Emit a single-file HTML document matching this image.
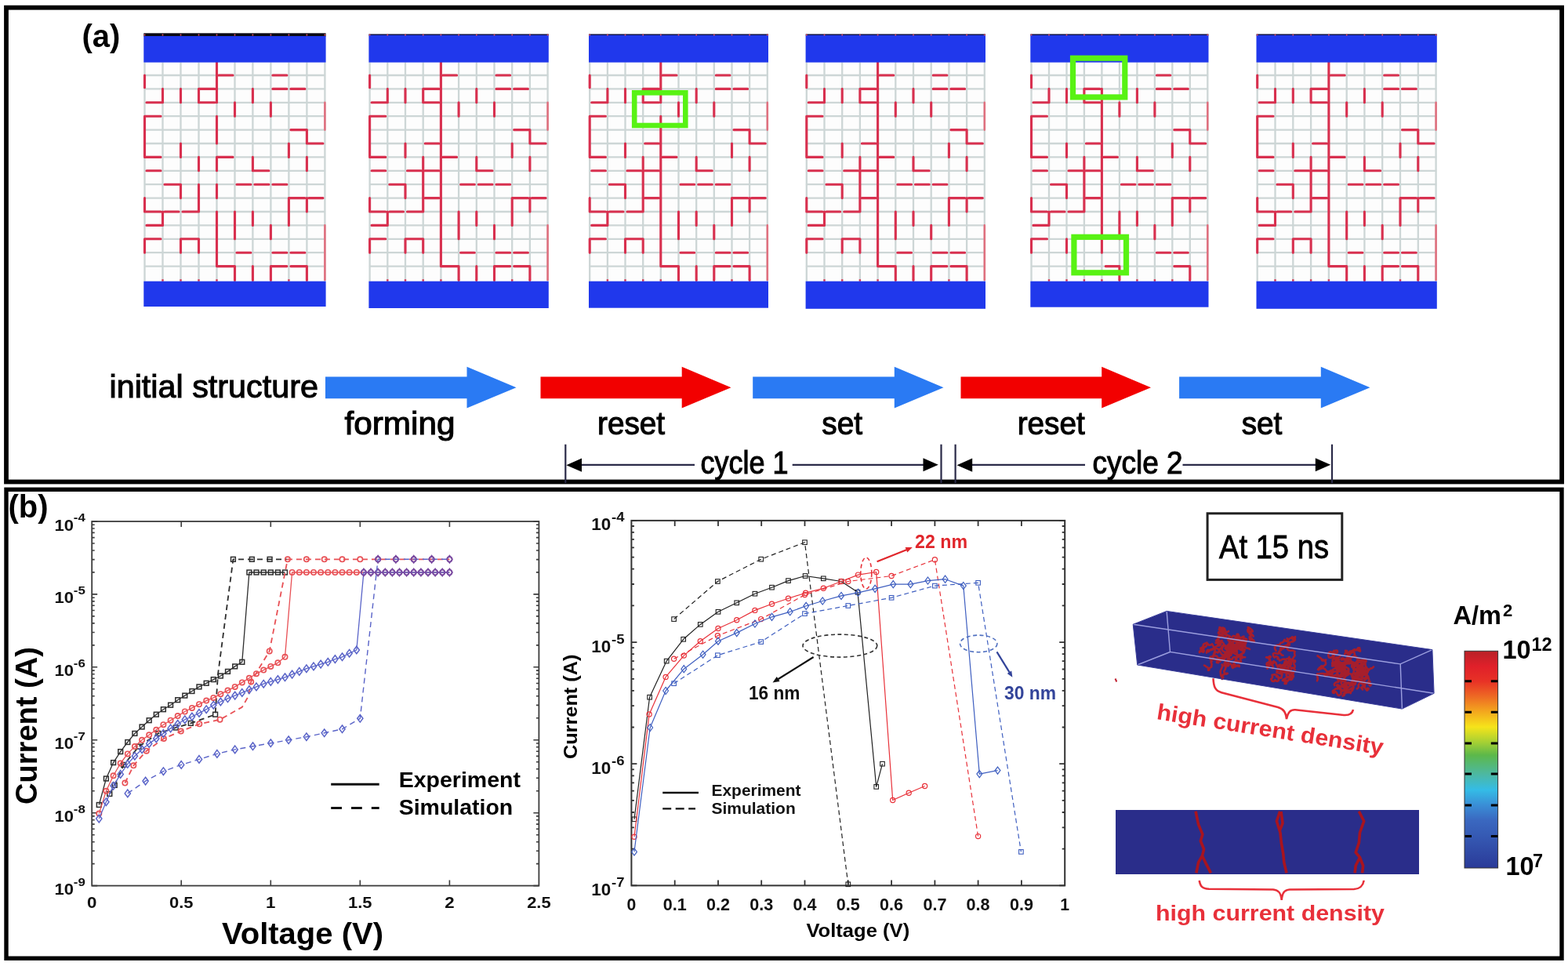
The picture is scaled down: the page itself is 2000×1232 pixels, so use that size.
<!DOCTYPE html>
<html><head><meta charset="utf-8"><title>Figure</title>
<style>html,body{margin:0;padding:0;background:#fff;}svg{display:block;}text{font-family:"Liberation Sans",Arial,sans-serif;}</style></head><body>
<svg width="2000" height="1232" viewBox="0 0 2000 1232">
<rect width="2000" height="1232" fill="#fff"/>
<rect x="183.3" y="79.6" width="232.3" height="279.1" fill="#fdfdfd"/>
<path d="M184.5 79.6V358.7M207.5 79.6V358.7M230.5 79.6V358.7M253.5 79.6V358.7M276.5 79.6V358.7M299.5 79.6V358.7M322.4 79.6V358.7M345.4 79.6V358.7M368.4 79.6V358.7M391.4 79.6V358.7M414.4 79.6V358.7M183.3 96H415.6M183.3 113.4H415.6M183.3 130.8H415.6M183.3 148.2H415.6M183.3 165.6H415.6M183.3 183H415.6M183.3 200.4H415.6M183.3 217.8H415.6M183.3 235.2H415.6M183.3 252.6H415.6M183.3 270H415.6M183.3 287.4H415.6M183.3 304.8H415.6M183.3 322.2H415.6M183.3 339.6H415.6" stroke="#cdd6d6" stroke-width="2.3" fill="none"/>
<path d="M276.5 78.6L276.5 130.8M279 96L297 96M274 113.4L253.5 113.4L253.5 130.8L274 130.8M184.5 96L184.5 111.7M207.5 113.4L207.5 130.8L187 130.8M230.5 113.4L230.5 130.8M347.9 96L365.9 96M347.9 113.4L365.9 113.4M370.9 113.4L388.9 113.4M322.4 113.4L322.4 130.8M299.5 130.8L299.5 148.2M345.4 130.8L345.4 148.2M205 148.2L184.5 148.2L184.5 200.4L205 200.4M276.5 148.2L276.5 183M370.9 165.6L391.4 165.6L391.4 183L411.9 183M230.5 183L230.5 200.4M368.4 183L368.4 200.4M276.5 217.8L276.5 200.4L297 200.4M253.5 200.4L253.5 217.8M322.4 200.4L322.4 217.8L342.9 217.8M391.4 200.4L391.4 217.8M187 217.8L205 217.8M302 235.2L319.9 235.2M324.9 235.2L342.9 235.2M347.9 235.2L365.9 235.2M210 235.2L230.5 235.2L230.5 252.6M253.5 235.2L253.5 270L233 270M228 270L210 270M205 270L184.5 270L184.5 252.6M207.5 270L207.5 287.4L187 287.4M276.5 235.2L276.5 252.6M368.4 287.4L368.4 252.6L388.9 252.6M393.9 252.6L411.9 252.6M391.4 252.6L391.4 270M276.5 270L276.5 339.6L299.5 339.6L299.5 357M299.5 270L299.5 304.8M322.4 270L322.4 287.4M345.4 287.4L345.4 304.8M205 304.8L184.5 304.8L184.5 322.2M230.5 322.2L230.5 304.8L253.5 304.8L253.5 322.2M302 322.2L319.9 322.2M347.9 322.2L365.9 322.2M370.9 322.2L388.9 322.2M322.4 339.6L322.4 357M365.9 339.6L345.4 339.6L345.4 357M370.9 339.6L391.4 339.6L391.4 357" stroke="#d8304f" stroke-width="3.1" fill="none" stroke-linecap="round" stroke-linejoin="round"/>
<path d="M414.4 130.8L414.4 165.6M414.4 287.4L414.4 357" stroke="#e0707f" stroke-width="2.6" fill="none" stroke-linecap="round"/>
<path d="M207.5 356.2V358.7M230.5 356.2V358.7M253.5 356.2V358.7M276.5 356.2V358.7M299.5 356.2V358.7M322.4 356.2V358.7M345.4 356.2V358.7M368.4 356.2V358.7M391.4 356.2V358.7" stroke="#d8304f" stroke-width="2.4" fill="none"/>
<rect x="183.3" y="42.3" width="232.3" height="4.2" fill="#0a0a14"/>
<rect x="183.3" y="46" width="232.3" height="33.6" fill="#2038ec"/>
<path d="M183.7 44.5h1.6M206.7 44.5h1.6M229.7 44.5h1.6M252.7 44.5h1.6M275.7 44.5h1.6M298.7 44.5h1.6M321.6 44.5h1.6M344.6 44.5h1.6M367.6 44.5h1.6M390.6 44.5h1.6M413.6 44.5h1.6" stroke="#e05060" stroke-width="2" fill="none"/>
<rect x="183.3" y="358.7" width="232.3" height="32.3" fill="#2038ec"/>
<rect x="470.4" y="79.6" width="229.4" height="279.1" fill="#fdfdfd"/>
<path d="M471.6 79.6V358.7M494.3 79.6V358.7M517 79.6V358.7M539.7 79.6V358.7M562.4 79.6V358.7M585.1 79.6V358.7M607.8 79.6V358.7M630.5 79.6V358.7M653.2 79.6V358.7M675.9 79.6V358.7M698.6 79.6V358.7M470.4 96H699.8M470.4 113.4H699.8M470.4 130.8H699.8M470.4 148.2H699.8M470.4 165.6H699.8M470.4 183H699.8M470.4 200.4H699.8M470.4 217.8H699.8M470.4 235.2H699.8M470.4 252.6H699.8M470.4 270H699.8M470.4 287.4H699.8M470.4 304.8H699.8M470.4 322.2H699.8M470.4 339.6H699.8" stroke="#cdd6d6" stroke-width="2.3" fill="none"/>
<path d="M564.9 96L582.6 96M559.9 113.4L539.7 113.4L539.7 130.8L559.9 130.8M471.6 96L471.6 111.7M494.3 113.4L494.3 130.8L474.1 130.8M517 113.4L517 130.8M633 96L650.7 96M633 113.4L650.7 113.4M655.7 113.4L673.4 113.4M607.8 113.4L607.8 130.8M585.1 130.8L585.1 148.2M630.5 130.8L630.5 148.2M491.8 148.2L471.6 148.2L471.6 200.4L491.8 200.4M655.7 165.6L675.9 165.6L675.9 183L696.1 183M517 183L517 200.4M653.2 183L653.2 200.4M607.8 200.4L607.8 217.8L628 217.8M675.9 200.4L675.9 217.8M474.1 217.8L491.8 217.8M587.6 235.2L605.3 235.2M610.3 235.2L628 235.2M633 235.2L650.7 235.2M496.8 235.2L517 235.2L517 252.6M514.5 270L496.8 270M491.8 270L471.6 270L471.6 252.6M494.3 270L494.3 287.4L474.1 287.4M653.2 287.4L653.2 252.6L673.4 252.6M678.4 252.6L696.1 252.6M675.9 252.6L675.9 270M585.1 270L585.1 304.8M607.8 270L607.8 287.4M630.5 287.4L630.5 304.8M491.8 304.8L471.6 304.8L471.6 322.2M517 322.2L517 304.8L539.7 304.8L539.7 322.2M587.6 322.2L605.3 322.2M633 322.2L650.7 322.2M655.7 322.2L673.4 322.2M607.8 339.6L607.8 357M650.7 339.6L630.5 339.6L630.5 357M655.7 339.6L675.9 339.6L675.9 357M562.4 78.6L562.4 339.6L585.1 339.6L585.1 357M564.9 200.4L582.6 200.4M542.2 183L559.9 183M539.7 200.4L539.7 270L519.5 270M519.5 217.8L537.2 217.8M542.2 217.8L559.9 217.8M542.2 252.6L559.9 252.6" stroke="#d8304f" stroke-width="3.1" fill="none" stroke-linecap="round" stroke-linejoin="round"/>
<path d="M698.6 130.8L698.6 165.6M698.6 287.4L698.6 357" stroke="#e0707f" stroke-width="2.6" fill="none" stroke-linecap="round"/>
<path d="M494.3 356.2V358.7M517 356.2V358.7M539.7 356.2V358.7M562.4 356.2V358.7M585.1 356.2V358.7M607.8 356.2V358.7M630.5 356.2V358.7M653.2 356.2V358.7M675.9 356.2V358.7" stroke="#d8304f" stroke-width="2.4" fill="none"/>
<rect x="470.4" y="43.4" width="229.4" height="2" fill="#141850"/>
<rect x="470.4" y="45" width="229.4" height="34.6" fill="#2038ec"/>
<path d="M470.8 44.5h1.6M493.5 44.5h1.6M516.2 44.5h1.6M538.9 44.5h1.6M561.6 44.5h1.6M584.3 44.5h1.6M607 44.5h1.6M629.7 44.5h1.6M652.4 44.5h1.6M675.1 44.5h1.6M697.8 44.5h1.6" stroke="#e05060" stroke-width="2" fill="none"/>
<rect x="470.4" y="358.7" width="229.4" height="34.3" fill="#2038ec"/>
<rect x="751" y="79.6" width="229" height="279.1" fill="#fdfdfd"/>
<path d="M752.2 79.6V358.7M774.9 79.6V358.7M797.5 79.6V358.7M820.2 79.6V358.7M842.8 79.6V358.7M865.5 79.6V358.7M888.2 79.6V358.7M910.8 79.6V358.7M933.5 79.6V358.7M956.1 79.6V358.7M978.8 79.6V358.7M751 96H980M751 113.4H980M751 130.8H980M751 148.2H980M751 165.6H980M751 183H980M751 200.4H980M751 217.8H980M751 235.2H980M751 252.6H980M751 270H980M751 287.4H980M751 304.8H980M751 322.2H980M751 339.6H980" stroke="#cdd6d6" stroke-width="2.3" fill="none"/>
<path d="M845.3 96L863 96M840.3 113.4L820.2 113.4L820.2 130.8L840.3 130.8M752.2 96L752.2 111.7M774.9 113.4L774.9 130.8L754.7 130.8M797.5 113.4L797.5 130.8M913.3 96L931 96M913.3 113.4L931 113.4M936 113.4L953.6 113.4M888.2 113.4L888.2 130.8M865.5 130.8L865.5 148.2M910.8 130.8L910.8 148.2M772.4 148.2L752.2 148.2L752.2 200.4L772.4 200.4M936 165.6L956.1 165.6L956.1 183L976.3 183M797.5 183L797.5 200.4M933.5 183L933.5 200.4M888.2 200.4L888.2 217.8L908.3 217.8M956.1 200.4L956.1 217.8M754.7 217.8L772.4 217.8M868 235.2L885.7 235.2M890.7 235.2L908.3 235.2M913.3 235.2L931 235.2M777.4 235.2L797.5 235.2L797.5 252.6M795 270L777.4 270M772.4 270L752.2 270L752.2 252.6M774.9 270L774.9 287.4L754.7 287.4M933.5 287.4L933.5 252.6L953.6 252.6M958.6 252.6L976.3 252.6M956.1 252.6L956.1 270M865.5 270L865.5 304.8M888.2 270L888.2 287.4M910.8 287.4L910.8 304.8M772.4 304.8L752.2 304.8L752.2 322.2M797.5 322.2L797.5 304.8L820.2 304.8L820.2 322.2M868 322.2L885.7 322.2M913.3 322.2L931 322.2M936 322.2L953.6 322.2M888.2 339.6L888.2 357M931 339.6L910.8 339.6L910.8 357M936 339.6L956.1 339.6L956.1 357M845.3 200.4L863 200.4M822.7 183L840.3 183M820.2 200.4L820.2 270L800 270M800 217.8L817.7 217.8M822.7 217.8L840.3 217.8M822.7 252.6L840.3 252.6M842.8 78.6L842.8 130.8M842.8 148.2L842.8 339.6L865.5 339.6L865.5 357" stroke="#d8304f" stroke-width="3.1" fill="none" stroke-linecap="round" stroke-linejoin="round"/>
<path d="M978.8 130.8L978.8 165.6M978.8 287.4L978.8 357" stroke="#e0707f" stroke-width="2.6" fill="none" stroke-linecap="round"/>
<path d="M774.9 356.2V358.7M797.5 356.2V358.7M820.2 356.2V358.7M842.8 356.2V358.7M865.5 356.2V358.7M888.2 356.2V358.7M910.8 356.2V358.7M933.5 356.2V358.7M956.1 356.2V358.7" stroke="#d8304f" stroke-width="2.4" fill="none"/>
<rect x="751" y="43.4" width="229" height="2" fill="#141850"/>
<rect x="751" y="45" width="229" height="34.6" fill="#2038ec"/>
<path d="M751.4 44.5h1.6M774.1 44.5h1.6M796.7 44.5h1.6M819.4 44.5h1.6M842 44.5h1.6M864.7 44.5h1.6M887.4 44.5h1.6M910 44.5h1.6M932.7 44.5h1.6M955.3 44.5h1.6M978 44.5h1.6" stroke="#e05060" stroke-width="2" fill="none"/>
<rect x="751" y="358.7" width="229" height="34" fill="#2038ec"/>
<rect x="1027.6" y="79.6" width="229.4" height="279.1" fill="#fdfdfd"/>
<path d="M1028.8 79.6V358.7M1051.5 79.6V358.7M1074.2 79.6V358.7M1096.9 79.6V358.7M1119.6 79.6V358.7M1142.3 79.6V358.7M1165 79.6V358.7M1187.7 79.6V358.7M1210.4 79.6V358.7M1233.1 79.6V358.7M1255.8 79.6V358.7M1027.6 96H1257M1027.6 113.4H1257M1027.6 130.8H1257M1027.6 148.2H1257M1027.6 165.6H1257M1027.6 183H1257M1027.6 200.4H1257M1027.6 217.8H1257M1027.6 235.2H1257M1027.6 252.6H1257M1027.6 270H1257M1027.6 287.4H1257M1027.6 304.8H1257M1027.6 322.2H1257M1027.6 339.6H1257" stroke="#cdd6d6" stroke-width="2.3" fill="none"/>
<path d="M1122.1 96L1139.8 96M1117.1 113.4L1096.9 113.4L1096.9 130.8L1117.1 130.8M1028.8 96L1028.8 111.7M1051.5 113.4L1051.5 130.8L1031.3 130.8M1074.2 113.4L1074.2 130.8M1190.2 96L1207.9 96M1190.2 113.4L1207.9 113.4M1212.9 113.4L1230.6 113.4M1165 113.4L1165 130.8M1142.3 130.8L1142.3 148.2M1187.7 130.8L1187.7 148.2M1049 148.2L1028.8 148.2L1028.8 200.4L1049 200.4M1212.9 165.6L1233.1 165.6L1233.1 183L1253.3 183M1074.2 183L1074.2 200.4M1210.4 183L1210.4 200.4M1165 200.4L1165 217.8L1185.2 217.8M1233.1 200.4L1233.1 217.8M1031.3 217.8L1049 217.8M1144.8 235.2L1162.5 235.2M1167.5 235.2L1185.2 235.2M1190.2 235.2L1207.9 235.2M1054 235.2L1074.2 235.2L1074.2 252.6M1071.7 270L1054 270M1049 270L1028.8 270L1028.8 252.6M1051.5 270L1051.5 287.4L1031.3 287.4M1210.4 287.4L1210.4 252.6L1230.6 252.6M1235.6 252.6L1253.3 252.6M1233.1 252.6L1233.1 270M1142.3 270L1142.3 304.8M1165 270L1165 287.4M1187.7 287.4L1187.7 304.8M1049 304.8L1028.8 304.8L1028.8 322.2M1074.2 322.2L1074.2 304.8L1096.9 304.8L1096.9 322.2M1144.8 322.2L1162.5 322.2M1190.2 322.2L1207.9 322.2M1212.9 322.2L1230.6 322.2M1165 339.6L1165 357M1207.9 339.6L1187.7 339.6L1187.7 357M1212.9 339.6L1233.1 339.6L1233.1 357M1119.6 78.6L1119.6 339.6L1142.3 339.6L1142.3 357M1122.1 200.4L1139.8 200.4M1099.4 183L1117.1 183M1096.9 200.4L1096.9 270L1076.7 270M1076.7 217.8L1094.4 217.8M1099.4 217.8L1117.1 217.8M1099.4 252.6L1117.1 252.6" stroke="#d8304f" stroke-width="3.1" fill="none" stroke-linecap="round" stroke-linejoin="round"/>
<path d="M1255.8 130.8L1255.8 165.6M1255.8 287.4L1255.8 357" stroke="#e0707f" stroke-width="2.6" fill="none" stroke-linecap="round"/>
<path d="M1051.5 356.2V358.7M1074.2 356.2V358.7M1096.9 356.2V358.7M1119.6 356.2V358.7M1142.3 356.2V358.7M1165 356.2V358.7M1187.7 356.2V358.7M1210.4 356.2V358.7M1233.1 356.2V358.7" stroke="#d8304f" stroke-width="2.4" fill="none"/>
<rect x="1027.6" y="43.4" width="229.4" height="2" fill="#141850"/>
<rect x="1027.6" y="45" width="229.4" height="34.6" fill="#2038ec"/>
<path d="M1028 44.5h1.6M1050.7 44.5h1.6M1073.4 44.5h1.6M1096.1 44.5h1.6M1118.8 44.5h1.6M1141.5 44.5h1.6M1164.2 44.5h1.6M1186.9 44.5h1.6M1209.6 44.5h1.6M1232.3 44.5h1.6M1255 44.5h1.6" stroke="#e05060" stroke-width="2" fill="none"/>
<rect x="1027.6" y="358.7" width="229.4" height="35.1" fill="#2038ec"/>
<rect x="1314.3" y="79.6" width="227.2" height="279.1" fill="#fdfdfd"/>
<path d="M1315.5 79.6V358.7M1338 79.6V358.7M1360.5 79.6V358.7M1382.9 79.6V358.7M1405.4 79.6V358.7M1427.9 79.6V358.7M1450.4 79.6V358.7M1472.9 79.6V358.7M1495.3 79.6V358.7M1517.8 79.6V358.7M1540.3 79.6V358.7M1314.3 96H1541.5M1314.3 113.4H1541.5M1314.3 130.8H1541.5M1314.3 148.2H1541.5M1314.3 165.6H1541.5M1314.3 183H1541.5M1314.3 200.4H1541.5M1314.3 217.8H1541.5M1314.3 235.2H1541.5M1314.3 252.6H1541.5M1314.3 270H1541.5M1314.3 287.4H1541.5M1314.3 304.8H1541.5M1314.3 322.2H1541.5M1314.3 339.6H1541.5" stroke="#cdd6d6" stroke-width="2.3" fill="none"/>
<path d="M1402.9 113.4L1382.9 113.4L1382.9 130.8L1402.9 130.8M1315.5 96L1315.5 111.7M1338 113.4L1338 130.8L1318 130.8M1360.5 113.4L1360.5 130.8M1475.4 96L1492.8 96M1475.4 113.4L1492.8 113.4M1497.8 113.4L1515.3 113.4M1450.4 113.4L1450.4 130.8M1427.9 130.8L1427.9 148.2M1472.9 130.8L1472.9 148.2M1335.5 148.2L1315.5 148.2L1315.5 200.4L1335.5 200.4M1497.8 165.6L1517.8 165.6L1517.8 183L1537.8 183M1360.5 183L1360.5 200.4M1495.3 183L1495.3 200.4M1450.4 200.4L1450.4 217.8L1470.4 217.8M1517.8 200.4L1517.8 217.8M1318 217.8L1335.5 217.8M1430.4 235.2L1447.9 235.2M1452.9 235.2L1470.4 235.2M1475.4 235.2L1492.8 235.2M1340.5 235.2L1360.5 235.2L1360.5 252.6M1358 270L1340.5 270M1335.5 270L1315.5 270L1315.5 252.6M1338 270L1338 287.4L1318 287.4M1495.3 287.4L1495.3 252.6L1515.3 252.6M1520.3 252.6L1537.8 252.6M1517.8 252.6L1517.8 270M1427.9 270L1427.9 304.8M1450.4 270L1450.4 287.4M1472.9 287.4L1472.9 304.8M1335.5 304.8L1315.5 304.8L1315.5 322.2M1475.4 322.2L1492.8 322.2M1497.8 322.2L1515.3 322.2M1497.8 339.6L1517.8 339.6L1517.8 357M1407.9 200.4L1425.4 200.4M1385.4 183L1402.9 183M1382.9 200.4L1382.9 270L1363 270M1363 217.8L1380.4 217.8M1385.4 217.8L1402.9 217.8M1385.4 252.6L1402.9 252.6M1405.4 113.4L1405.4 322.2M1410.2 339.6L1427.9 339.6L1427.9 357M1360.5 304.8L1360.5 322.2" stroke="#d8304f" stroke-width="3.1" fill="none" stroke-linecap="round" stroke-linejoin="round"/>
<path d="M1540.3 130.8L1540.3 165.6M1540.3 287.4L1540.3 357" stroke="#e0707f" stroke-width="2.6" fill="none" stroke-linecap="round"/>
<path d="M1338 356.2V358.7M1360.5 356.2V358.7M1382.9 356.2V358.7M1405.4 356.2V358.7M1427.9 356.2V358.7M1450.4 356.2V358.7M1472.9 356.2V358.7M1495.3 356.2V358.7M1517.8 356.2V358.7" stroke="#d8304f" stroke-width="2.4" fill="none"/>
<rect x="1314.3" y="43.4" width="227.2" height="2" fill="#141850"/>
<rect x="1314.3" y="45" width="227.2" height="34.6" fill="#2038ec"/>
<path d="M1314.7 44.5h1.6M1337.2 44.5h1.6M1359.7 44.5h1.6M1382.1 44.5h1.6M1404.6 44.5h1.6M1427.1 44.5h1.6M1449.6 44.5h1.6M1472.1 44.5h1.6M1494.5 44.5h1.6M1517 44.5h1.6M1539.5 44.5h1.6" stroke="#e05060" stroke-width="2" fill="none"/>
<rect x="1314.3" y="358.7" width="227.2" height="33" fill="#2038ec"/>
<rect x="1602.5" y="79.6" width="230.3" height="279.1" fill="#fdfdfd"/>
<path d="M1603.7 79.6V358.7M1626.5 79.6V358.7M1649.3 79.6V358.7M1672.1 79.6V358.7M1694.9 79.6V358.7M1717.7 79.6V358.7M1740.4 79.6V358.7M1763.2 79.6V358.7M1786 79.6V358.7M1808.8 79.6V358.7M1831.6 79.6V358.7M1602.5 96H1832.8M1602.5 113.4H1832.8M1602.5 130.8H1832.8M1602.5 148.2H1832.8M1602.5 165.6H1832.8M1602.5 183H1832.8M1602.5 200.4H1832.8M1602.5 217.8H1832.8M1602.5 235.2H1832.8M1602.5 252.6H1832.8M1602.5 270H1832.8M1602.5 287.4H1832.8M1602.5 304.8H1832.8M1602.5 322.2H1832.8M1602.5 339.6H1832.8" stroke="#cdd6d6" stroke-width="2.3" fill="none"/>
<path d="M1697.4 96L1715.2 96M1692.4 113.4L1672.1 113.4L1672.1 130.8L1692.4 130.8M1603.7 96L1603.7 111.7M1626.5 113.4L1626.5 130.8L1606.2 130.8M1649.3 113.4L1649.3 130.8M1765.7 96L1783.5 96M1765.7 113.4L1783.5 113.4M1788.5 113.4L1806.3 113.4M1740.4 113.4L1740.4 130.8M1717.7 130.8L1717.7 148.2M1763.2 130.8L1763.2 148.2M1624 148.2L1603.7 148.2L1603.7 200.4L1624 200.4M1788.5 165.6L1808.8 165.6L1808.8 183L1829.1 183M1649.3 183L1649.3 200.4M1786 183L1786 200.4M1740.4 200.4L1740.4 217.8L1760.7 217.8M1808.8 200.4L1808.8 217.8M1606.2 217.8L1624 217.8M1720.2 235.2L1737.9 235.2M1742.9 235.2L1760.7 235.2M1765.7 235.2L1783.5 235.2M1629 235.2L1649.3 235.2L1649.3 252.6M1646.8 270L1629 270M1624 270L1603.7 270L1603.7 252.6M1626.5 270L1626.5 287.4L1606.2 287.4M1786 287.4L1786 252.6L1806.3 252.6M1811.3 252.6L1829.1 252.6M1808.8 252.6L1808.8 270M1717.7 270L1717.7 304.8M1740.4 270L1740.4 287.4M1763.2 287.4L1763.2 304.8M1624 304.8L1603.7 304.8L1603.7 322.2M1649.3 322.2L1649.3 304.8L1672.1 304.8L1672.1 322.2M1720.2 322.2L1737.9 322.2M1765.7 322.2L1783.5 322.2M1788.5 322.2L1806.3 322.2M1740.4 339.6L1740.4 357M1783.5 339.6L1763.2 339.6L1763.2 357M1788.5 339.6L1808.8 339.6L1808.8 357M1694.9 78.6L1694.9 339.6L1717.7 339.6L1717.7 357M1697.4 200.4L1715.2 200.4M1674.6 183L1692.4 183M1672.1 200.4L1672.1 270L1651.8 270M1651.8 217.8L1669.6 217.8M1674.6 217.8L1692.4 217.8M1674.6 252.6L1692.4 252.6" stroke="#d8304f" stroke-width="3.1" fill="none" stroke-linecap="round" stroke-linejoin="round"/>
<path d="M1831.6 130.8L1831.6 165.6M1831.6 287.4L1831.6 357" stroke="#e0707f" stroke-width="2.6" fill="none" stroke-linecap="round"/>
<path d="M1626.5 356.2V358.7M1649.3 356.2V358.7M1672.1 356.2V358.7M1694.9 356.2V358.7M1717.7 356.2V358.7M1740.4 356.2V358.7M1763.2 356.2V358.7M1786 356.2V358.7M1808.8 356.2V358.7" stroke="#d8304f" stroke-width="2.4" fill="none"/>
<rect x="1602.5" y="43.4" width="230.3" height="2" fill="#141850"/>
<rect x="1602.5" y="45" width="230.3" height="34.6" fill="#2038ec"/>
<path d="M1602.9 44.5h1.6M1625.7 44.5h1.6M1648.5 44.5h1.6M1671.3 44.5h1.6M1694.1 44.5h1.6M1716.9 44.5h1.6M1739.6 44.5h1.6M1762.4 44.5h1.6M1785.2 44.5h1.6M1808 44.5h1.6M1830.8 44.5h1.6" stroke="#e05060" stroke-width="2" fill="none"/>
<rect x="1602.5" y="358.7" width="230.3" height="35.1" fill="#2038ec"/>
<rect x="809.2" y="118.3" width="65.1" height="41.7" fill="none" stroke="#58f214" stroke-width="6.6"/>
<rect x="1368.5" y="74.2" width="66.3" height="49.7" fill="none" stroke="#58f214" stroke-width="7.2"/>
<rect x="1369.9" y="302.3" width="66.6" height="45.5" fill="none" stroke="#58f214" stroke-width="7.2"/>
<path d="M415 480.6H595.5 V467.8 L658.5 494.3 L595.5 520.4 V508.2 H415 Z" fill="#2a7af3"/>
<path d="M689.5 480.6H869.7 V467.8 L932.5 494.3 L869.7 520.4 V508.2 H689.5 Z" fill="#f20000"/>
<path d="M960.2 480.6H1140.8 V467.8 L1203.5 494.3 L1140.8 520.4 V508.2 H960.2 Z" fill="#2a7af3"/>
<path d="M1225.5 480.6H1405.2 V467.8 L1468 494.3 L1405.2 520.4 V508.2 H1225.5 Z" fill="#f20000"/>
<path d="M1504.1 480.6H1684.8 V467.8 L1747.5 494.3 L1684.8 520.4 V508.2 H1504.1 Z" fill="#2a7af3"/>
<rect x="8" y="9.7" width="1984.1" height="604.8" fill="none" stroke="#000" stroke-width="5.8"/>
<rect x="8" y="624.3" width="1984" height="597.9" fill="none" stroke="#000" stroke-width="5.4"/>
<text x="104.5" y="59.5" font-size="40" font-weight="bold">(a)</text>
<text x="10.5" y="659.5" font-size="40" font-weight="bold">(b)</text>
<text x="139.5" y="506.5" fill="#000" font-size="41" stroke="#000" stroke-width="1.1" textLength="266.5" lengthAdjust="spacingAndGlyphs">initial structure</text>
<text x="439.5" y="554" fill="#000" font-size="41" stroke="#000" stroke-width="1.1" textLength="141" lengthAdjust="spacingAndGlyphs">forming</text>
<text x="762" y="554" fill="#000" font-size="41" stroke="#000" stroke-width="1.1" textLength="86" lengthAdjust="spacingAndGlyphs">reset</text>
<text x="1048.3" y="554" fill="#000" font-size="41" stroke="#000" stroke-width="1.1" textLength="51.7" lengthAdjust="spacingAndGlyphs">set</text>
<text x="1297.7" y="554" fill="#000" font-size="41" stroke="#000" stroke-width="1.1" textLength="86" lengthAdjust="spacingAndGlyphs">reset</text>
<text x="1583.7" y="554" fill="#000" font-size="41" stroke="#000" stroke-width="1.1" textLength="51.6" lengthAdjust="spacingAndGlyphs">set</text>
<text x="893.5" y="604" fill="#000" font-size="41" stroke="#000" stroke-width="1.1" textLength="112" lengthAdjust="spacingAndGlyphs">cycle 1</text>
<text x="1393.6" y="604" fill="#000" font-size="41" stroke="#000" stroke-width="1.1" textLength="115" lengthAdjust="spacingAndGlyphs">cycle 2</text>
<g stroke="#2a2a48" stroke-width="2.2" fill="none">
<path d="M721.3 566.7V616M1200.5 566.7V616M1218.6 566.7V616M1699 566.7V616"/>
<path d="M740 592.8H886M1010.7 592.8H1180M1240 592.8H1384M1508.5 592.8H1680"/>
</g>
<g fill="#000">
<path d="M722.3 593.2L742 584.6V601.8Z"/>
<path d="M1196.8 592.8L1177.5 584.3V601.3Z"/>
<path d="M1220.5 593.2L1240.2 584.6V601.8Z"/>
<path d="M1697.2 592.8L1677.8 584.3V601.3Z"/>
</g>
<rect x="117.2" y="665" width="570.2" height="464.6" fill="none" stroke="#3c3c3c" stroke-width="1.8"/>
<path d="M117.2 1129.6h7M687.4 1129.6h-7M117.2 1101.6h3.5M687.4 1101.6h-3.5M117.2 1085.3h3.5M687.4 1085.3h-3.5M117.2 1073.7h3.5M687.4 1073.7h-3.5M117.2 1064.7h3.5M687.4 1064.7h-3.5M117.2 1057.3h3.5M687.4 1057.3h-3.5M117.2 1051.1h3.5M687.4 1051.1h-3.5M117.2 1045.7h3.5M687.4 1045.7h-3.5M117.2 1040.9h3.5M687.4 1040.9h-3.5M117.2 1036.7h7M687.4 1036.7h-7M117.2 1008.7h3.5M687.4 1008.7h-3.5M117.2 992.3h3.5M687.4 992.3h-3.5M117.2 980.7h3.5M687.4 980.7h-3.5M117.2 971.7h3.5M687.4 971.7h-3.5M117.2 964.4h3.5M687.4 964.4h-3.5M117.2 958.2h3.5M687.4 958.2h-3.5M117.2 952.8h3.5M687.4 952.8h-3.5M117.2 948h3.5M687.4 948h-3.5M117.2 943.8h7M687.4 943.8h-7M117.2 915.8h3.5M687.4 915.8h-3.5M117.2 899.4h3.5M687.4 899.4h-3.5M117.2 887.8h3.5M687.4 887.8h-3.5M117.2 878.8h3.5M687.4 878.8h-3.5M117.2 871.5h3.5M687.4 871.5h-3.5M117.2 865.2h3.5M687.4 865.2h-3.5M117.2 859.8h3.5M687.4 859.8h-3.5M117.2 855.1h3.5M687.4 855.1h-3.5M117.2 850.8h7M687.4 850.8h-7M117.2 822.9h3.5M687.4 822.9h-3.5M117.2 806.5h3.5M687.4 806.5h-3.5M117.2 794.9h3.5M687.4 794.9h-3.5M117.2 785.9h3.5M687.4 785.9h-3.5M117.2 778.5h3.5M687.4 778.5h-3.5M117.2 772.3h3.5M687.4 772.3h-3.5M117.2 766.9h3.5M687.4 766.9h-3.5M117.2 762.2h3.5M687.4 762.2h-3.5M117.2 757.9h7M687.4 757.9h-7M117.2 729.9h3.5M687.4 729.9h-3.5M117.2 713.6h3.5M687.4 713.6h-3.5M117.2 702h3.5M687.4 702h-3.5M117.2 693h3.5M687.4 693h-3.5M117.2 685.6h3.5M687.4 685.6h-3.5M117.2 679.4h3.5M687.4 679.4h-3.5M117.2 674h3.5M687.4 674h-3.5M117.2 669.3h3.5M687.4 669.3h-3.5M117.2 665h7M687.4 665h-7M231.2 1129.6v-7M231.2 665v7M345.3 1129.6v-7M345.3 665v7M459.3 1129.6v-7M459.3 665v7M573.4 1129.6v-7M573.4 665v7" stroke="#3c3c3c" stroke-width="1.6" fill="none"/>
<path d="M126.3 1026.5L135.4 993L144.6 972.6L153.7 958.6L162.8 946.5L171.9 935.4L181.1 927L190.2 918.7L199.3 911.2L208.4 904.7L217.6 899.2L226.7 892.7L235.8 887.1L244.9 881.5L254 875.9L263.2 871.3L272.3 866.6L281.4 862L290.5 856.4L299.7 849.9L308.8 844.3L317.9 730L327 730L336.2 730L345.3 730L354.4 730L363.5 730" fill="none" stroke="#2e2e2e" stroke-width="1.3" stroke-linejoin="round"/>
<rect x="123.4" y="1023.6" width="5.8" height="5.8" fill="none" stroke="#2e2e2e" stroke-width="1.5"/>
<rect x="132.5" y="990.1" width="5.8" height="5.8" fill="none" stroke="#2e2e2e" stroke-width="1.5"/>
<rect x="141.7" y="969.7" width="5.8" height="5.8" fill="none" stroke="#2e2e2e" stroke-width="1.5"/>
<rect x="150.8" y="955.7" width="5.8" height="5.8" fill="none" stroke="#2e2e2e" stroke-width="1.5"/>
<rect x="159.9" y="943.6" width="5.8" height="5.8" fill="none" stroke="#2e2e2e" stroke-width="1.5"/>
<rect x="169" y="932.5" width="5.8" height="5.8" fill="none" stroke="#2e2e2e" stroke-width="1.5"/>
<rect x="178.2" y="924.1" width="5.8" height="5.8" fill="none" stroke="#2e2e2e" stroke-width="1.5"/>
<rect x="187.3" y="915.8" width="5.8" height="5.8" fill="none" stroke="#2e2e2e" stroke-width="1.5"/>
<rect x="196.4" y="908.3" width="5.8" height="5.8" fill="none" stroke="#2e2e2e" stroke-width="1.5"/>
<rect x="205.5" y="901.8" width="5.8" height="5.8" fill="none" stroke="#2e2e2e" stroke-width="1.5"/>
<rect x="214.7" y="896.3" width="5.8" height="5.8" fill="none" stroke="#2e2e2e" stroke-width="1.5"/>
<rect x="223.8" y="889.8" width="5.8" height="5.8" fill="none" stroke="#2e2e2e" stroke-width="1.5"/>
<rect x="232.9" y="884.2" width="5.8" height="5.8" fill="none" stroke="#2e2e2e" stroke-width="1.5"/>
<rect x="242" y="878.6" width="5.8" height="5.8" fill="none" stroke="#2e2e2e" stroke-width="1.5"/>
<rect x="251.1" y="873" width="5.8" height="5.8" fill="none" stroke="#2e2e2e" stroke-width="1.5"/>
<rect x="260.3" y="868.4" width="5.8" height="5.8" fill="none" stroke="#2e2e2e" stroke-width="1.5"/>
<rect x="269.4" y="863.7" width="5.8" height="5.8" fill="none" stroke="#2e2e2e" stroke-width="1.5"/>
<rect x="278.5" y="859.1" width="5.8" height="5.8" fill="none" stroke="#2e2e2e" stroke-width="1.5"/>
<rect x="287.6" y="853.5" width="5.8" height="5.8" fill="none" stroke="#2e2e2e" stroke-width="1.5"/>
<rect x="296.8" y="847" width="5.8" height="5.8" fill="none" stroke="#2e2e2e" stroke-width="1.5"/>
<rect x="305.9" y="841.4" width="5.8" height="5.8" fill="none" stroke="#2e2e2e" stroke-width="1.5"/>
<rect x="315" y="727.1" width="5.8" height="5.8" fill="none" stroke="#2e2e2e" stroke-width="1.5"/>
<rect x="324.1" y="727.1" width="5.8" height="5.8" fill="none" stroke="#2e2e2e" stroke-width="1.5"/>
<rect x="333.3" y="727.1" width="5.8" height="5.8" fill="none" stroke="#2e2e2e" stroke-width="1.5"/>
<rect x="342.4" y="727.1" width="5.8" height="5.8" fill="none" stroke="#2e2e2e" stroke-width="1.5"/>
<rect x="351.5" y="727.1" width="5.8" height="5.8" fill="none" stroke="#2e2e2e" stroke-width="1.5"/>
<rect x="360.6" y="727.1" width="5.8" height="5.8" fill="none" stroke="#2e2e2e" stroke-width="1.5"/>
<path d="M139.8 1012.5L146.2 1001.4L157.8 975.4L177 952.1L201.8 935.4L224.2 928L243.3 922.4L274.6 911.2L278 860.1L297.4 713.3L321.3 713.3L344.1 713.3L365.8 713.3" fill="none" stroke="#2e2e2e" stroke-width="1.8" stroke-dasharray="7 5" stroke-linejoin="round"/>
<rect x="136.9" y="1009.6" width="5.8" height="5.8" fill="none" stroke="#2e2e2e" stroke-width="1.5"/>
<rect x="143.3" y="998.5" width="5.8" height="5.8" fill="none" stroke="#2e2e2e" stroke-width="1.5"/>
<rect x="154.9" y="972.5" width="5.8" height="5.8" fill="none" stroke="#2e2e2e" stroke-width="1.5"/>
<rect x="174.1" y="949.2" width="5.8" height="5.8" fill="none" stroke="#2e2e2e" stroke-width="1.5"/>
<rect x="198.9" y="932.5" width="5.8" height="5.8" fill="none" stroke="#2e2e2e" stroke-width="1.5"/>
<rect x="221.3" y="925.1" width="5.8" height="5.8" fill="none" stroke="#2e2e2e" stroke-width="1.5"/>
<rect x="240.4" y="919.5" width="5.8" height="5.8" fill="none" stroke="#2e2e2e" stroke-width="1.5"/>
<rect x="271.7" y="908.3" width="5.8" height="5.8" fill="none" stroke="#2e2e2e" stroke-width="1.5"/>
<rect x="294.5" y="710.4" width="5.8" height="5.8" fill="none" stroke="#2e2e2e" stroke-width="1.5"/>
<rect x="318.4" y="710.4" width="5.8" height="5.8" fill="none" stroke="#2e2e2e" stroke-width="1.5"/>
<rect x="341.2" y="710.4" width="5.8" height="5.8" fill="none" stroke="#2e2e2e" stroke-width="1.5"/>
<path d="M126.3 1037.6L135.4 1008.8L144.6 989.3L153.7 973.5L162.8 961.4L171.9 952.1L181.1 943.8L190.2 937.3L199.3 930.8L208.4 924.2L217.6 918.7L226.7 913.1L235.8 907.5L244.9 902.9L254 898.2L263.2 893.6L272.3 889.9L281.4 885.2L290.5 880.6L299.7 875.9L308.8 870.4L317.9 864.8L327 859.2L336.2 854.6L345.3 849.9L354.4 845.3L363.5 837.8L372.6 730L381.8 730L390.9 730L400 730L409.1 730L418.3 730L427.4 730L436.5 730L445.6 730L454.8 730L463.9 730L473 730L482.1 730L491.3 730L500.4 730L509.5 730L518.6 730L527.7 730L536.9 730L546 730L555.1 730L564.2 730L573.4 730" fill="none" stroke="#e85055" stroke-width="1.3" stroke-linejoin="round"/>
<circle cx="126.3" cy="1037.6" r="3.2" fill="none" stroke="#e85055" stroke-width="1.6"/>
<circle cx="135.4" cy="1008.8" r="3.2" fill="none" stroke="#e85055" stroke-width="1.6"/>
<circle cx="144.6" cy="989.3" r="3.2" fill="none" stroke="#e85055" stroke-width="1.6"/>
<circle cx="153.7" cy="973.5" r="3.2" fill="none" stroke="#e85055" stroke-width="1.6"/>
<circle cx="162.8" cy="961.4" r="3.2" fill="none" stroke="#e85055" stroke-width="1.6"/>
<circle cx="171.9" cy="952.1" r="3.2" fill="none" stroke="#e85055" stroke-width="1.6"/>
<circle cx="181.1" cy="943.8" r="3.2" fill="none" stroke="#e85055" stroke-width="1.6"/>
<circle cx="190.2" cy="937.3" r="3.2" fill="none" stroke="#e85055" stroke-width="1.6"/>
<circle cx="199.3" cy="930.8" r="3.2" fill="none" stroke="#e85055" stroke-width="1.6"/>
<circle cx="208.4" cy="924.2" r="3.2" fill="none" stroke="#e85055" stroke-width="1.6"/>
<circle cx="217.6" cy="918.7" r="3.2" fill="none" stroke="#e85055" stroke-width="1.6"/>
<circle cx="226.7" cy="913.1" r="3.2" fill="none" stroke="#e85055" stroke-width="1.6"/>
<circle cx="235.8" cy="907.5" r="3.2" fill="none" stroke="#e85055" stroke-width="1.6"/>
<circle cx="244.9" cy="902.9" r="3.2" fill="none" stroke="#e85055" stroke-width="1.6"/>
<circle cx="254" cy="898.2" r="3.2" fill="none" stroke="#e85055" stroke-width="1.6"/>
<circle cx="263.2" cy="893.6" r="3.2" fill="none" stroke="#e85055" stroke-width="1.6"/>
<circle cx="272.3" cy="889.9" r="3.2" fill="none" stroke="#e85055" stroke-width="1.6"/>
<circle cx="281.4" cy="885.2" r="3.2" fill="none" stroke="#e85055" stroke-width="1.6"/>
<circle cx="290.5" cy="880.6" r="3.2" fill="none" stroke="#e85055" stroke-width="1.6"/>
<circle cx="299.7" cy="875.9" r="3.2" fill="none" stroke="#e85055" stroke-width="1.6"/>
<circle cx="308.8" cy="870.4" r="3.2" fill="none" stroke="#e85055" stroke-width="1.6"/>
<circle cx="317.9" cy="864.8" r="3.2" fill="none" stroke="#e85055" stroke-width="1.6"/>
<circle cx="327" cy="859.2" r="3.2" fill="none" stroke="#e85055" stroke-width="1.6"/>
<circle cx="336.2" cy="854.6" r="3.2" fill="none" stroke="#e85055" stroke-width="1.6"/>
<circle cx="345.3" cy="849.9" r="3.2" fill="none" stroke="#e85055" stroke-width="1.6"/>
<circle cx="354.4" cy="845.3" r="3.2" fill="none" stroke="#e85055" stroke-width="1.6"/>
<circle cx="363.5" cy="837.8" r="3.2" fill="none" stroke="#e85055" stroke-width="1.6"/>
<circle cx="372.6" cy="730" r="3.2" fill="none" stroke="#e85055" stroke-width="1.6"/>
<circle cx="381.8" cy="730" r="3.2" fill="none" stroke="#e85055" stroke-width="1.6"/>
<circle cx="390.9" cy="730" r="3.2" fill="none" stroke="#e85055" stroke-width="1.6"/>
<circle cx="400" cy="730" r="3.2" fill="none" stroke="#e85055" stroke-width="1.6"/>
<circle cx="409.1" cy="730" r="3.2" fill="none" stroke="#e85055" stroke-width="1.6"/>
<circle cx="418.3" cy="730" r="3.2" fill="none" stroke="#e85055" stroke-width="1.6"/>
<circle cx="427.4" cy="730" r="3.2" fill="none" stroke="#e85055" stroke-width="1.6"/>
<circle cx="436.5" cy="730" r="3.2" fill="none" stroke="#e85055" stroke-width="1.6"/>
<circle cx="445.6" cy="730" r="3.2" fill="none" stroke="#e85055" stroke-width="1.6"/>
<circle cx="454.8" cy="730" r="3.2" fill="none" stroke="#e85055" stroke-width="1.6"/>
<circle cx="463.9" cy="730" r="3.2" fill="none" stroke="#7a4aa0" stroke-width="1.6"/>
<circle cx="473" cy="730" r="3.2" fill="none" stroke="#7a4aa0" stroke-width="1.6"/>
<circle cx="482.1" cy="730" r="3.2" fill="none" stroke="#7a4aa0" stroke-width="1.6"/>
<circle cx="491.3" cy="730" r="3.2" fill="none" stroke="#7a4aa0" stroke-width="1.6"/>
<circle cx="500.4" cy="730" r="3.2" fill="none" stroke="#7a4aa0" stroke-width="1.6"/>
<circle cx="509.5" cy="730" r="3.2" fill="none" stroke="#7a4aa0" stroke-width="1.6"/>
<circle cx="518.6" cy="730" r="3.2" fill="none" stroke="#7a4aa0" stroke-width="1.6"/>
<circle cx="527.7" cy="730" r="3.2" fill="none" stroke="#7a4aa0" stroke-width="1.6"/>
<circle cx="536.9" cy="730" r="3.2" fill="none" stroke="#7a4aa0" stroke-width="1.6"/>
<circle cx="546" cy="730" r="3.2" fill="none" stroke="#7a4aa0" stroke-width="1.6"/>
<circle cx="555.1" cy="730" r="3.2" fill="none" stroke="#7a4aa0" stroke-width="1.6"/>
<circle cx="564.2" cy="730" r="3.2" fill="none" stroke="#7a4aa0" stroke-width="1.6"/>
<circle cx="573.4" cy="730" r="3.2" fill="none" stroke="#7a4aa0" stroke-width="1.6"/>
<path d="M159.4 998.6L170.3 976.3L186.8 957.7L208.9 941.9L230.8 932.6L254.3 923.3L280.5 917.7L308.8 901.9L316.8 888L320.2 869.4L343.7 830.4L366.9 713.3L390.9 713.3L413.7 713.3L436.5 713.3L459.3 713.3L482.1 713.3L504.9 713.3L527.7 713.3L550.6 713.3L573.4 713.3" fill="none" stroke="#e85055" stroke-width="1.8" stroke-dasharray="7 5" stroke-linejoin="round"/>
<circle cx="159.4" cy="998.6" r="3.2" fill="none" stroke="#e85055" stroke-width="1.6"/>
<circle cx="170.3" cy="976.3" r="3.2" fill="none" stroke="#e85055" stroke-width="1.6"/>
<circle cx="186.8" cy="957.7" r="3.2" fill="none" stroke="#e85055" stroke-width="1.6"/>
<circle cx="208.9" cy="941.9" r="3.2" fill="none" stroke="#e85055" stroke-width="1.6"/>
<circle cx="230.8" cy="932.6" r="3.2" fill="none" stroke="#e85055" stroke-width="1.6"/>
<circle cx="254.3" cy="923.3" r="3.2" fill="none" stroke="#e85055" stroke-width="1.6"/>
<circle cx="280.5" cy="917.7" r="3.2" fill="none" stroke="#e85055" stroke-width="1.6"/>
<circle cx="320.2" cy="869.4" r="3.2" fill="none" stroke="#e85055" stroke-width="1.6"/>
<circle cx="343.7" cy="830.4" r="3.2" fill="none" stroke="#e85055" stroke-width="1.6"/>
<circle cx="366.9" cy="713.3" r="3.2" fill="none" stroke="#e85055" stroke-width="1.6"/>
<circle cx="390.9" cy="713.3" r="3.2" fill="none" stroke="#e85055" stroke-width="1.6"/>
<circle cx="413.7" cy="713.3" r="3.2" fill="none" stroke="#e85055" stroke-width="1.6"/>
<circle cx="436.5" cy="713.3" r="3.2" fill="none" stroke="#e85055" stroke-width="1.6"/>
<circle cx="459.3" cy="713.3" r="3.2" fill="none" stroke="#e85055" stroke-width="1.6"/>
<circle cx="482.1" cy="713.3" r="3.2" fill="none" stroke="#7a4aa0" stroke-width="1.6"/>
<circle cx="504.9" cy="713.3" r="3.2" fill="none" stroke="#7a4aa0" stroke-width="1.6"/>
<circle cx="527.7" cy="713.3" r="3.2" fill="none" stroke="#7a4aa0" stroke-width="1.6"/>
<circle cx="550.6" cy="713.3" r="3.2" fill="none" stroke="#7a4aa0" stroke-width="1.6"/>
<circle cx="573.4" cy="713.3" r="3.2" fill="none" stroke="#7a4aa0" stroke-width="1.6"/>
<path d="M126.3 1044.1L135.4 1022.7L144.6 1002.3L153.7 987.4L162.8 974.4L171.9 964.2L181.1 955.8L190.2 948.4L199.3 941.9L208.4 935.4L217.6 928.9L226.7 923.3L235.8 917.7L244.9 914L254 909.4L263.2 904.7L272.3 899.2L281.4 895L290.5 890.8L299.7 887.1L308.8 883.4L317.9 879.6L327 875.9L336.2 872.2L345.3 869.4L354.4 866.6L363.5 863.8L372.6 860.1L381.8 856.4L390.9 852.7L400 849.9L409.1 847.1L418.3 844.3L427.4 840.6L436.5 837.8L445.6 833.2L454.8 829L463.9 730L473 730L482.1 730L491.3 730L500.4 730L509.5 730L518.6 730L527.7 730L536.9 730L546 730L555.1 730L564.2 730L573.4 730" fill="none" stroke="#5a64c8" stroke-width="1.3" stroke-linejoin="round"/>
<path d="M126.3 1039.3L129.9 1044.1L126.3 1048.9L122.7 1044.1Z" fill="none" stroke="#5a64c8" stroke-width="1.5"/>
<path d="M135.4 1017.9L139 1022.7L135.4 1027.5L131.8 1022.7Z" fill="none" stroke="#5a64c8" stroke-width="1.5"/>
<path d="M144.6 997.5L148.2 1002.3L144.6 1007.1L141 1002.3Z" fill="none" stroke="#5a64c8" stroke-width="1.5"/>
<path d="M153.7 982.6L157.3 987.4L153.7 992.2L150.1 987.4Z" fill="none" stroke="#5a64c8" stroke-width="1.5"/>
<path d="M162.8 969.6L166.4 974.4L162.8 979.2L159.2 974.4Z" fill="none" stroke="#5a64c8" stroke-width="1.5"/>
<path d="M171.9 959.4L175.5 964.2L171.9 969L168.3 964.2Z" fill="none" stroke="#5a64c8" stroke-width="1.5"/>
<path d="M181.1 951L184.7 955.8L181.1 960.6L177.5 955.8Z" fill="none" stroke="#5a64c8" stroke-width="1.5"/>
<path d="M190.2 943.6L193.8 948.4L190.2 953.2L186.6 948.4Z" fill="none" stroke="#5a64c8" stroke-width="1.5"/>
<path d="M199.3 937.1L202.9 941.9L199.3 946.7L195.7 941.9Z" fill="none" stroke="#5a64c8" stroke-width="1.5"/>
<path d="M208.4 930.6L212 935.4L208.4 940.2L204.8 935.4Z" fill="none" stroke="#5a64c8" stroke-width="1.5"/>
<path d="M217.6 924.1L221.2 928.9L217.6 933.7L214 928.9Z" fill="none" stroke="#5a64c8" stroke-width="1.5"/>
<path d="M226.7 918.5L230.3 923.3L226.7 928.1L223.1 923.3Z" fill="none" stroke="#5a64c8" stroke-width="1.5"/>
<path d="M235.8 912.9L239.4 917.7L235.8 922.5L232.2 917.7Z" fill="none" stroke="#5a64c8" stroke-width="1.5"/>
<path d="M244.9 909.2L248.5 914L244.9 918.8L241.3 914Z" fill="none" stroke="#5a64c8" stroke-width="1.5"/>
<path d="M254 904.6L257.6 909.4L254 914.2L250.4 909.4Z" fill="none" stroke="#5a64c8" stroke-width="1.5"/>
<path d="M263.2 899.9L266.8 904.7L263.2 909.5L259.6 904.7Z" fill="none" stroke="#5a64c8" stroke-width="1.5"/>
<path d="M272.3 894.4L275.9 899.2L272.3 904L268.7 899.2Z" fill="none" stroke="#5a64c8" stroke-width="1.5"/>
<path d="M281.4 890.2L285 895L281.4 899.8L277.8 895Z" fill="none" stroke="#5a64c8" stroke-width="1.5"/>
<path d="M290.5 886L294.1 890.8L290.5 895.6L286.9 890.8Z" fill="none" stroke="#5a64c8" stroke-width="1.5"/>
<path d="M299.7 882.3L303.3 887.1L299.7 891.9L296.1 887.1Z" fill="none" stroke="#5a64c8" stroke-width="1.5"/>
<path d="M308.8 878.6L312.4 883.4L308.8 888.2L305.2 883.4Z" fill="none" stroke="#5a64c8" stroke-width="1.5"/>
<path d="M317.9 874.8L321.5 879.6L317.9 884.4L314.3 879.6Z" fill="none" stroke="#5a64c8" stroke-width="1.5"/>
<path d="M327 871.1L330.6 875.9L327 880.7L323.4 875.9Z" fill="none" stroke="#5a64c8" stroke-width="1.5"/>
<path d="M336.2 867.4L339.8 872.2L336.2 877L332.6 872.2Z" fill="none" stroke="#5a64c8" stroke-width="1.5"/>
<path d="M345.3 864.6L348.9 869.4L345.3 874.2L341.7 869.4Z" fill="none" stroke="#5a64c8" stroke-width="1.5"/>
<path d="M354.4 861.8L358 866.6L354.4 871.4L350.8 866.6Z" fill="none" stroke="#5a64c8" stroke-width="1.5"/>
<path d="M363.5 859L367.1 863.8L363.5 868.6L359.9 863.8Z" fill="none" stroke="#5a64c8" stroke-width="1.5"/>
<path d="M372.6 855.3L376.2 860.1L372.6 864.9L369 860.1Z" fill="none" stroke="#5a64c8" stroke-width="1.5"/>
<path d="M381.8 851.6L385.4 856.4L381.8 861.2L378.2 856.4Z" fill="none" stroke="#5a64c8" stroke-width="1.5"/>
<path d="M390.9 847.9L394.5 852.7L390.9 857.5L387.3 852.7Z" fill="none" stroke="#5a64c8" stroke-width="1.5"/>
<path d="M400 845.1L403.6 849.9L400 854.7L396.4 849.9Z" fill="none" stroke="#5a64c8" stroke-width="1.5"/>
<path d="M409.1 842.3L412.7 847.1L409.1 851.9L405.5 847.1Z" fill="none" stroke="#5a64c8" stroke-width="1.5"/>
<path d="M418.3 839.5L421.9 844.3L418.3 849.1L414.7 844.3Z" fill="none" stroke="#5a64c8" stroke-width="1.5"/>
<path d="M427.4 835.8L431 840.6L427.4 845.4L423.8 840.6Z" fill="none" stroke="#5a64c8" stroke-width="1.5"/>
<path d="M436.5 833L440.1 837.8L436.5 842.6L432.9 837.8Z" fill="none" stroke="#5a64c8" stroke-width="1.5"/>
<path d="M445.6 828.4L449.2 833.2L445.6 838L442 833.2Z" fill="none" stroke="#5a64c8" stroke-width="1.5"/>
<path d="M454.8 824.2L458.4 829L454.8 833.8L451.2 829Z" fill="none" stroke="#5a64c8" stroke-width="1.5"/>
<path d="M463.9 725.2L467.5 730L463.9 734.8L460.3 730Z" fill="none" stroke="#7a4aa0" stroke-width="1.5"/>
<path d="M473 725.2L476.6 730L473 734.8L469.4 730Z" fill="none" stroke="#7a4aa0" stroke-width="1.5"/>
<path d="M482.1 725.2L485.7 730L482.1 734.8L478.5 730Z" fill="none" stroke="#7a4aa0" stroke-width="1.5"/>
<path d="M491.3 725.2L494.9 730L491.3 734.8L487.7 730Z" fill="none" stroke="#7a4aa0" stroke-width="1.5"/>
<path d="M500.4 725.2L504 730L500.4 734.8L496.8 730Z" fill="none" stroke="#7a4aa0" stroke-width="1.5"/>
<path d="M509.5 725.2L513.1 730L509.5 734.8L505.9 730Z" fill="none" stroke="#7a4aa0" stroke-width="1.5"/>
<path d="M518.6 725.2L522.2 730L518.6 734.8L515 730Z" fill="none" stroke="#7a4aa0" stroke-width="1.5"/>
<path d="M527.7 725.2L531.3 730L527.7 734.8L524.1 730Z" fill="none" stroke="#7a4aa0" stroke-width="1.5"/>
<path d="M536.9 725.2L540.5 730L536.9 734.8L533.3 730Z" fill="none" stroke="#7a4aa0" stroke-width="1.5"/>
<path d="M546 725.2L549.6 730L546 734.8L542.4 730Z" fill="none" stroke="#7a4aa0" stroke-width="1.5"/>
<path d="M555.1 725.2L558.7 730L555.1 734.8L551.5 730Z" fill="none" stroke="#7a4aa0" stroke-width="1.5"/>
<path d="M564.2 725.2L567.8 730L564.2 734.8L560.6 730Z" fill="none" stroke="#7a4aa0" stroke-width="1.5"/>
<path d="M573.4 725.2L577 730L573.4 734.8L569.8 730Z" fill="none" stroke="#7a4aa0" stroke-width="1.5"/>
<path d="M162.8 1011.9L185.6 996.1L208.4 983.7L231.2 975.4L254 968.4L276.9 961.4L299.7 955.9L322.5 951.8L345.3 947.8L368.1 943.8L390.9 939.7L413.7 934.8L436.5 929.8L459.3 916.3L482.1 713.3L504.9 713.3L527.7 713.3L550.6 713.3L573.4 713.3" fill="none" stroke="#5a64c8" stroke-width="1.4" stroke-dasharray="7 5" stroke-linejoin="round"/>
<path d="M162.8 1007.1L166.4 1011.9L162.8 1016.7L159.2 1011.9Z" fill="none" stroke="#5a64c8" stroke-width="1.5"/>
<path d="M185.6 991.3L189.2 996.1L185.6 1000.9L182 996.1Z" fill="none" stroke="#5a64c8" stroke-width="1.5"/>
<path d="M208.4 978.9L212 983.7L208.4 988.5L204.8 983.7Z" fill="none" stroke="#5a64c8" stroke-width="1.5"/>
<path d="M231.2 970.6L234.8 975.4L231.2 980.2L227.6 975.4Z" fill="none" stroke="#5a64c8" stroke-width="1.5"/>
<path d="M254 963.6L257.6 968.4L254 973.2L250.4 968.4Z" fill="none" stroke="#5a64c8" stroke-width="1.5"/>
<path d="M276.9 956.6L280.5 961.4L276.9 966.2L273.3 961.4Z" fill="none" stroke="#5a64c8" stroke-width="1.5"/>
<path d="M299.7 951.1L303.3 955.9L299.7 960.7L296.1 955.9Z" fill="none" stroke="#5a64c8" stroke-width="1.5"/>
<path d="M322.5 947L326.1 951.8L322.5 956.6L318.9 951.8Z" fill="none" stroke="#5a64c8" stroke-width="1.5"/>
<path d="M345.3 943L348.9 947.8L345.3 952.6L341.7 947.8Z" fill="none" stroke="#5a64c8" stroke-width="1.5"/>
<path d="M368.1 939L371.7 943.8L368.1 948.6L364.5 943.8Z" fill="none" stroke="#5a64c8" stroke-width="1.5"/>
<path d="M390.9 934.9L394.5 939.7L390.9 944.5L387.3 939.7Z" fill="none" stroke="#5a64c8" stroke-width="1.5"/>
<path d="M413.7 930L417.3 934.8L413.7 939.6L410.1 934.8Z" fill="none" stroke="#5a64c8" stroke-width="1.5"/>
<path d="M436.5 925L440.1 929.8L436.5 934.6L432.9 929.8Z" fill="none" stroke="#5a64c8" stroke-width="1.5"/>
<path d="M459.3 911.5L462.9 916.3L459.3 921.1L455.7 916.3Z" fill="none" stroke="#5a64c8" stroke-width="1.5"/>
<path d="M482.1 708.5L485.7 713.3L482.1 718.1L478.5 713.3Z" fill="none" stroke="#7a4aa0" stroke-width="1.5"/>
<path d="M504.9 708.5L508.5 713.3L504.9 718.1L501.3 713.3Z" fill="none" stroke="#7a4aa0" stroke-width="1.5"/>
<path d="M527.7 708.5L531.3 713.3L527.7 718.1L524.1 713.3Z" fill="none" stroke="#7a4aa0" stroke-width="1.5"/>
<path d="M550.6 708.5L554.2 713.3L550.6 718.1L547 713.3Z" fill="none" stroke="#7a4aa0" stroke-width="1.5"/>
<path d="M573.4 708.5L577 713.3L573.4 718.1L569.8 713.3Z" fill="none" stroke="#7a4aa0" stroke-width="1.5"/>
<text x="69.5" y="1141.1" font-size="20.5" textLength="24.5" lengthAdjust="spacingAndGlyphs" font-weight="bold" fill="#111">10</text>
<text x="93.8" y="1130" font-size="14" textLength="15" lengthAdjust="spacingAndGlyphs" font-weight="bold" fill="#111">-9</text>
<text x="69.5" y="1048.2" font-size="20.5" textLength="24.5" lengthAdjust="spacingAndGlyphs" font-weight="bold" fill="#111">10</text>
<text x="93.8" y="1037.1" font-size="14" textLength="15" lengthAdjust="spacingAndGlyphs" font-weight="bold" fill="#111">-8</text>
<text x="69.5" y="955.3" font-size="20.5" textLength="24.5" lengthAdjust="spacingAndGlyphs" font-weight="bold" fill="#111">10</text>
<text x="93.8" y="944.2" font-size="14" textLength="15" lengthAdjust="spacingAndGlyphs" font-weight="bold" fill="#111">-7</text>
<text x="69.5" y="862.3" font-size="20.5" textLength="24.5" lengthAdjust="spacingAndGlyphs" font-weight="bold" fill="#111">10</text>
<text x="93.8" y="851.2" font-size="14" textLength="15" lengthAdjust="spacingAndGlyphs" font-weight="bold" fill="#111">-6</text>
<text x="69.5" y="769.4" font-size="20.5" textLength="24.5" lengthAdjust="spacingAndGlyphs" font-weight="bold" fill="#111">10</text>
<text x="93.8" y="758.3" font-size="14" textLength="15" lengthAdjust="spacingAndGlyphs" font-weight="bold" fill="#111">-5</text>
<text x="69.5" y="676.5" font-size="20.5" textLength="24.5" lengthAdjust="spacingAndGlyphs" font-weight="bold" fill="#111">10</text>
<text x="93.8" y="665.4" font-size="14" textLength="15" lengthAdjust="spacingAndGlyphs" font-weight="bold" fill="#111">-4</text>
<text x="117.2" y="1158" font-size="20.5" text-anchor="middle" textLength="12.4" lengthAdjust="spacingAndGlyphs" font-weight="bold" fill="#111">0</text>
<text x="231.2" y="1158" font-size="20.5" text-anchor="middle" textLength="30.5" lengthAdjust="spacingAndGlyphs" font-weight="bold" fill="#111">0.5</text>
<text x="345.3" y="1158" font-size="20.5" text-anchor="middle" textLength="12.4" lengthAdjust="spacingAndGlyphs" font-weight="bold" fill="#111">1</text>
<text x="459.3" y="1158" font-size="20.5" text-anchor="middle" textLength="30.5" lengthAdjust="spacingAndGlyphs" font-weight="bold" fill="#111">1.5</text>
<text x="573.4" y="1158" font-size="20.5" text-anchor="middle" textLength="12.4" lengthAdjust="spacingAndGlyphs" font-weight="bold" fill="#111">2</text>
<text x="687.4" y="1158" font-size="20.5" text-anchor="middle" textLength="30.5" lengthAdjust="spacingAndGlyphs" font-weight="bold" fill="#111">2.5</text>
<text transform="translate(46.6 1026) rotate(-90)" font-size="38.5" font-weight="bold" textLength="201" lengthAdjust="spacingAndGlyphs">Current (A)</text>
<text x="283" y="1204.3" font-size="38.5" font-weight="bold" textLength="206" lengthAdjust="spacingAndGlyphs">Voltage (V)</text>
<path d="M422.2 1000.2H483.7" stroke="#111" stroke-width="3"/>
<path d="M422.2 1030.5H483.7" stroke="#111" stroke-width="3" stroke-dasharray="13.8 12"/>
<text x="508.7" y="1004.2" font-size="27" font-weight="bold" textLength="155.3" lengthAdjust="spacingAndGlyphs">Experiment</text>
<text x="508.7" y="1038.7" font-size="27" font-weight="bold" textLength="145.5" lengthAdjust="spacingAndGlyphs">Simulation</text>
<rect x="805.4" y="663.9" width="552.8" height="465.5" fill="none" stroke="#333" stroke-width="2"/>
<path d="M805.4 1129.4h7M1358.2 1129.4h-7M805.4 1082.7h3.5M1358.2 1082.7h-3.5M805.4 1055.4h3.5M1358.2 1055.4h-3.5M805.4 1036h3.5M1358.2 1036h-3.5M805.4 1020.9h3.5M1358.2 1020.9h-3.5M805.4 1008.7h3.5M1358.2 1008.7h-3.5M805.4 998.3h3.5M1358.2 998.3h-3.5M805.4 989.3h3.5M1358.2 989.3h-3.5M805.4 981.3h3.5M1358.2 981.3h-3.5M805.4 974.2h7M1358.2 974.2h-7M805.4 927.5h3.5M1358.2 927.5h-3.5M805.4 900.2h3.5M1358.2 900.2h-3.5M805.4 880.8h3.5M1358.2 880.8h-3.5M805.4 865.8h3.5M1358.2 865.8h-3.5M805.4 853.5h3.5M1358.2 853.5h-3.5M805.4 843.1h3.5M1358.2 843.1h-3.5M805.4 834.1h3.5M1358.2 834.1h-3.5M805.4 826.2h3.5M1358.2 826.2h-3.5M805.4 819.1h7M1358.2 819.1h-7M805.4 772.4h3.5M1358.2 772.4h-3.5M805.4 745h3.5M1358.2 745h-3.5M805.4 725.6h3.5M1358.2 725.6h-3.5M805.4 710.6h3.5M1358.2 710.6h-3.5M805.4 698.3h3.5M1358.2 698.3h-3.5M805.4 687.9h3.5M1358.2 687.9h-3.5M805.4 678.9h3.5M1358.2 678.9h-3.5M805.4 671h3.5M1358.2 671h-3.5M805.4 663.9h7M1358.2 663.9h-7M860.7 1129.4v-7M860.7 663.9v7M916 1129.4v-7M916 663.9v7M971.2 1129.4v-7M971.2 663.9v7M1026.5 1129.4v-7M1026.5 663.9v7M1081.8 1129.4v-7M1081.8 663.9v7M1137.1 1129.4v-7M1137.1 663.9v7M1192.4 1129.4v-7M1192.4 663.9v7M1247.6 1129.4v-7M1247.6 663.9v7M1302.9 1129.4v-7M1302.9 663.9v7" stroke="#333" stroke-width="1.8" fill="none"/>
<path d="M809 1044.8L828.6 889.2L850.2 843.1L871.7 815.3L893.3 796.4L916 780.3L939.7 768.8L962.9 757.2L984.5 749.2L1005.5 740.6L1027.1 734.5L1050.3 737.8L1073 741.5L1094 755.3L1117.7 1003.4L1125.5 974.2" fill="none" stroke="#222" stroke-width="1.2" stroke-linejoin="round"/>
<rect x="806.2" y="1042" width="5.6" height="5.6" fill="none" stroke="#222" stroke-width="1.1"/>
<rect x="825.8" y="886.4" width="5.6" height="5.6" fill="none" stroke="#222" stroke-width="1.1"/>
<rect x="847.4" y="840.3" width="5.6" height="5.6" fill="none" stroke="#222" stroke-width="1.1"/>
<rect x="868.9" y="812.5" width="5.6" height="5.6" fill="none" stroke="#222" stroke-width="1.1"/>
<rect x="890.5" y="793.6" width="5.6" height="5.6" fill="none" stroke="#222" stroke-width="1.1"/>
<rect x="913.2" y="777.5" width="5.6" height="5.6" fill="none" stroke="#222" stroke-width="1.1"/>
<rect x="936.9" y="766" width="5.6" height="5.6" fill="none" stroke="#222" stroke-width="1.1"/>
<rect x="960.1" y="754.4" width="5.6" height="5.6" fill="none" stroke="#222" stroke-width="1.1"/>
<rect x="981.7" y="746.4" width="5.6" height="5.6" fill="none" stroke="#222" stroke-width="1.1"/>
<rect x="1002.7" y="737.8" width="5.6" height="5.6" fill="none" stroke="#222" stroke-width="1.1"/>
<rect x="1024.3" y="731.7" width="5.6" height="5.6" fill="none" stroke="#222" stroke-width="1.1"/>
<rect x="1047.5" y="735" width="5.6" height="5.6" fill="none" stroke="#222" stroke-width="1.1"/>
<rect x="1070.2" y="738.7" width="5.6" height="5.6" fill="none" stroke="#222" stroke-width="1.1"/>
<rect x="1091.2" y="752.5" width="5.6" height="5.6" fill="none" stroke="#222" stroke-width="1.1"/>
<rect x="1114.9" y="1000.6" width="5.6" height="5.6" fill="none" stroke="#222" stroke-width="1.1"/>
<rect x="1122.7" y="971.4" width="5.6" height="5.6" fill="none" stroke="#222" stroke-width="1.1"/>
<path d="M859.6 789.6L915.4 741.5L970.7 713.2L1026.5 691.7L1081.8 1127.8" fill="none" stroke="#222" stroke-width="1.2" stroke-dasharray="6 4" stroke-linejoin="round"/>
<rect x="856.8" y="786.8" width="5.6" height="5.6" fill="none" stroke="#222" stroke-width="1.1"/>
<rect x="912.6" y="738.7" width="5.6" height="5.6" fill="none" stroke="#222" stroke-width="1.1"/>
<rect x="967.9" y="710.4" width="5.6" height="5.6" fill="none" stroke="#222" stroke-width="1.1"/>
<rect x="1023.7" y="688.9" width="5.6" height="5.6" fill="none" stroke="#222" stroke-width="1.1"/>
<rect x="1079" y="1125" width="5.6" height="5.6" fill="none" stroke="#222" stroke-width="1.1"/>
<path d="M809 1067.3L828.1 910.9L849.1 863.4L872.3 836.1L893.3 817.7L916 801.5L939.7 790.8L962.9 778.4L984.5 770.2L1005.5 763.2L1027.6 756.2L1050.3 750.3L1073 741.5L1094.5 733.1L1117.7 729.5L1138.7 1020.5L1159.2 1011.2L1179.6 1002.5" fill="none" stroke="#e8323a" stroke-width="1.2" stroke-linejoin="round"/>
<circle cx="809" cy="1067.3" r="3.1" fill="none" stroke="#e8323a" stroke-width="1.2"/>
<circle cx="828.1" cy="910.9" r="3.1" fill="none" stroke="#e8323a" stroke-width="1.2"/>
<circle cx="849.1" cy="863.4" r="3.1" fill="none" stroke="#e8323a" stroke-width="1.2"/>
<circle cx="872.3" cy="836.1" r="3.1" fill="none" stroke="#e8323a" stroke-width="1.2"/>
<circle cx="893.3" cy="817.7" r="3.1" fill="none" stroke="#e8323a" stroke-width="1.2"/>
<circle cx="916" cy="801.5" r="3.1" fill="none" stroke="#e8323a" stroke-width="1.2"/>
<circle cx="939.7" cy="790.8" r="3.1" fill="none" stroke="#e8323a" stroke-width="1.2"/>
<circle cx="962.9" cy="778.4" r="3.1" fill="none" stroke="#e8323a" stroke-width="1.2"/>
<circle cx="984.5" cy="770.2" r="3.1" fill="none" stroke="#e8323a" stroke-width="1.2"/>
<circle cx="1005.5" cy="763.2" r="3.1" fill="none" stroke="#e8323a" stroke-width="1.2"/>
<circle cx="1027.6" cy="756.2" r="3.1" fill="none" stroke="#e8323a" stroke-width="1.2"/>
<circle cx="1050.3" cy="750.3" r="3.1" fill="none" stroke="#e8323a" stroke-width="1.2"/>
<circle cx="1073" cy="741.5" r="3.1" fill="none" stroke="#e8323a" stroke-width="1.2"/>
<circle cx="1094.5" cy="733.1" r="3.1" fill="none" stroke="#e8323a" stroke-width="1.2"/>
<circle cx="1117.7" cy="729.5" r="3.1" fill="none" stroke="#e8323a" stroke-width="1.2"/>
<circle cx="1138.7" cy="1020.5" r="3.1" fill="none" stroke="#e8323a" stroke-width="1.2"/>
<circle cx="1159.2" cy="1011.2" r="3.1" fill="none" stroke="#e8323a" stroke-width="1.2"/>
<circle cx="1179.6" cy="1002.5" r="3.1" fill="none" stroke="#e8323a" stroke-width="1.2"/>
<path d="M859.6 840.3L915.4 810.7L970.7 789.6L1026.5 758.6L1081.8 741.5L1137.1 734.5L1192.4 713.7L1247.6 1066.6" fill="none" stroke="#e8323a" stroke-width="1.2" stroke-dasharray="6 4" stroke-linejoin="round"/>
<circle cx="859.6" cy="840.3" r="3.1" fill="none" stroke="#e8323a" stroke-width="1.2"/>
<circle cx="915.4" cy="810.7" r="3.1" fill="none" stroke="#e8323a" stroke-width="1.2"/>
<circle cx="970.7" cy="789.6" r="3.1" fill="none" stroke="#e8323a" stroke-width="1.2"/>
<circle cx="1026.5" cy="758.6" r="3.1" fill="none" stroke="#e8323a" stroke-width="1.2"/>
<circle cx="1081.8" cy="741.5" r="3.1" fill="none" stroke="#e8323a" stroke-width="1.2"/>
<circle cx="1137.1" cy="734.5" r="3.1" fill="none" stroke="#e8323a" stroke-width="1.2"/>
<circle cx="1192.4" cy="713.7" r="3.1" fill="none" stroke="#e8323a" stroke-width="1.2"/>
<circle cx="1247.6" cy="1066.6" r="3.1" fill="none" stroke="#e8323a" stroke-width="1.2"/>
<path d="M809 1086.4L829.2 928L849.1 881L872.3 853.2L896.6 834.7L916 817.7L939.7 807.1L962.9 795.5L984.5 786.8L1007.7 780.3L1028.2 772.8L1049.2 766.5L1073 759.9L1094.5 755.8L1116.1 750.8L1139.3 745.2L1161.4 745.2L1183.5 740.6L1205.6 738.7L1228.8 747.1L1249.3 987.1L1272.5 982.6" fill="none" stroke="#3f5fc0" stroke-width="1.2" stroke-linejoin="round"/>
<path d="M809 1081.9L812.4 1086.4L809 1091L805.6 1086.4Z" fill="none" stroke="#3f5fc0" stroke-width="1.2"/>
<path d="M829.2 923.4L832.6 928L829.2 932.6L825.8 928Z" fill="none" stroke="#3f5fc0" stroke-width="1.2"/>
<path d="M849.1 876.4L852.5 881L849.1 885.5L845.7 881Z" fill="none" stroke="#3f5fc0" stroke-width="1.2"/>
<path d="M872.3 848.6L875.7 853.2L872.3 857.8L868.9 853.2Z" fill="none" stroke="#3f5fc0" stroke-width="1.2"/>
<path d="M896.6 830.2L900 834.7L896.6 839.3L893.2 834.7Z" fill="none" stroke="#3f5fc0" stroke-width="1.2"/>
<path d="M916 813.1L919.4 817.7L916 822.2L912.5 817.7Z" fill="none" stroke="#3f5fc0" stroke-width="1.2"/>
<path d="M939.7 802.6L943.2 807.1L939.7 811.7L936.3 807.1Z" fill="none" stroke="#3f5fc0" stroke-width="1.2"/>
<path d="M962.9 790.9L966.4 795.5L962.9 800L959.5 795.5Z" fill="none" stroke="#3f5fc0" stroke-width="1.2"/>
<path d="M984.5 782.2L987.9 786.8L984.5 791.4L981.1 786.8Z" fill="none" stroke="#3f5fc0" stroke-width="1.2"/>
<path d="M1007.7 775.7L1011.1 780.3L1007.7 784.8L1004.3 780.3Z" fill="none" stroke="#3f5fc0" stroke-width="1.2"/>
<path d="M1028.2 768.3L1031.6 772.8L1028.2 777.4L1024.8 772.8Z" fill="none" stroke="#3f5fc0" stroke-width="1.2"/>
<path d="M1049.2 761.9L1052.6 766.5L1049.2 771L1045.8 766.5Z" fill="none" stroke="#3f5fc0" stroke-width="1.2"/>
<path d="M1073 755.4L1076.4 759.9L1073 764.5L1069.5 759.9Z" fill="none" stroke="#3f5fc0" stroke-width="1.2"/>
<path d="M1094.5 751.2L1097.9 755.8L1094.5 760.3L1091.1 755.8Z" fill="none" stroke="#3f5fc0" stroke-width="1.2"/>
<path d="M1116.1 746.2L1119.5 750.8L1116.1 755.4L1112.7 750.8Z" fill="none" stroke="#3f5fc0" stroke-width="1.2"/>
<path d="M1139.3 740.6L1142.7 745.2L1139.3 749.8L1135.9 745.2Z" fill="none" stroke="#3f5fc0" stroke-width="1.2"/>
<path d="M1161.4 740.6L1164.8 745.2L1161.4 749.8L1158 745.2Z" fill="none" stroke="#3f5fc0" stroke-width="1.2"/>
<path d="M1183.5 736L1186.9 740.6L1183.5 745.1L1180.1 740.6Z" fill="none" stroke="#3f5fc0" stroke-width="1.2"/>
<path d="M1205.6 734.1L1209 738.7L1205.6 743.3L1202.2 738.7Z" fill="none" stroke="#3f5fc0" stroke-width="1.2"/>
<path d="M1228.8 742.5L1232.3 747.1L1228.8 751.6L1225.4 747.1Z" fill="none" stroke="#3f5fc0" stroke-width="1.2"/>
<path d="M1249.3 982.6L1252.7 987.1L1249.3 991.7L1245.9 987.1Z" fill="none" stroke="#3f5fc0" stroke-width="1.2"/>
<path d="M1272.5 978.1L1275.9 982.6L1272.5 987.2L1269.1 982.6Z" fill="none" stroke="#3f5fc0" stroke-width="1.2"/>
<path d="M859.6 871.7L915.4 835.7L970.7 818.6L1026.5 782.6L1081.8 772.5L1137.1 762.3L1192.4 747.1L1247.6 743.3L1302.4 1086.4" fill="none" stroke="#3f5fc0" stroke-width="1.2" stroke-dasharray="6 4" stroke-linejoin="round"/>
<rect x="856.8" y="868.9" width="5.6" height="5.6" fill="none" stroke="#3f5fc0" stroke-width="1.1"/>
<rect x="912.6" y="832.9" width="5.6" height="5.6" fill="none" stroke="#3f5fc0" stroke-width="1.1"/>
<rect x="967.9" y="815.8" width="5.6" height="5.6" fill="none" stroke="#3f5fc0" stroke-width="1.1"/>
<rect x="1023.7" y="779.8" width="5.6" height="5.6" fill="none" stroke="#3f5fc0" stroke-width="1.1"/>
<rect x="1079" y="769.7" width="5.6" height="5.6" fill="none" stroke="#3f5fc0" stroke-width="1.1"/>
<rect x="1134.3" y="759.5" width="5.6" height="5.6" fill="none" stroke="#3f5fc0" stroke-width="1.1"/>
<rect x="1189.6" y="744.3" width="5.6" height="5.6" fill="none" stroke="#3f5fc0" stroke-width="1.1"/>
<rect x="1244.8" y="740.5" width="5.6" height="5.6" fill="none" stroke="#3f5fc0" stroke-width="1.1"/>
<rect x="1299.6" y="1083.6" width="5.6" height="5.6" fill="none" stroke="#3f5fc0" stroke-width="1.1"/>
<ellipse cx="1071.4" cy="823.6" rx="47.4" ry="14.5" fill="none" stroke="#333" stroke-width="1.6" stroke-dasharray="5 3.5"/>
<ellipse cx="1248.2" cy="820.9" rx="23.7" ry="10.8" fill="none" stroke="#5070c0" stroke-width="1.6" stroke-dasharray="5 3.5"/>
<ellipse cx="1104.8" cy="731" rx="7" ry="20" fill="none" stroke="#e8323a" stroke-width="1.6" stroke-dasharray="5 3.5"/>
<path d="M1037.6 838.0L991.9 866.5" stroke="#111" stroke-width="2.2"/>
<path d="M985.5 870.5L990.8 862.9L994.6 869.1Z" fill="#111"/>
<path d="M1118.6 716.3L1156.8 700.9" stroke="#e0262b" stroke-width="2.2"/>
<path d="M1163.8 698.1L1157.3 704.6L1154.6 697.9Z" fill="#e0262b"/>
<path d="M1271.5 831.3L1288.0 858.2" stroke="#33449a" stroke-width="2.2"/>
<path d="M1291.4 863.7L1284.7 859.0L1290.2 855.6Z" fill="#33449a"/>
<text x="1167" y="699.3" font-size="24" font-weight="bold" fill="#e0262b" textLength="67" lengthAdjust="spacingAndGlyphs">22 nm</text>
<text x="955" y="892" font-size="24" font-weight="bold" fill="#111" textLength="65.5" lengthAdjust="spacingAndGlyphs">16 nm</text>
<text x="1281" y="891.7" font-size="24" font-weight="bold" fill="#33449a" textLength="66" lengthAdjust="spacingAndGlyphs">30 nm</text>
<text x="754.3" y="1141.8" font-size="21.5" textLength="25" lengthAdjust="spacingAndGlyphs" font-weight="bold" fill="#111">10</text>
<text x="780" y="1130.8" font-size="17" textLength="16.5" lengthAdjust="spacingAndGlyphs" font-weight="bold" fill="#111">-7</text>
<text x="754.3" y="986.6" font-size="21.5" textLength="25" lengthAdjust="spacingAndGlyphs" font-weight="bold" fill="#111">10</text>
<text x="780" y="975.6" font-size="17" textLength="16.5" lengthAdjust="spacingAndGlyphs" font-weight="bold" fill="#111">-6</text>
<text x="754.3" y="831.5" font-size="21.5" textLength="25" lengthAdjust="spacingAndGlyphs" font-weight="bold" fill="#111">10</text>
<text x="780" y="820.5" font-size="17" textLength="16.5" lengthAdjust="spacingAndGlyphs" font-weight="bold" fill="#111">-5</text>
<text x="754.3" y="676.3" font-size="21.5" textLength="25" lengthAdjust="spacingAndGlyphs" font-weight="bold" fill="#111">10</text>
<text x="780" y="665.3" font-size="17" textLength="16.5" lengthAdjust="spacingAndGlyphs" font-weight="bold" fill="#111">-4</text>
<text x="805.4" y="1160.5" font-size="21.5" text-anchor="middle" textLength="11.8" lengthAdjust="spacingAndGlyphs" font-weight="bold" fill="#111">0</text>
<text x="860.7" y="1160.5" font-size="21.5" text-anchor="middle" textLength="30" lengthAdjust="spacingAndGlyphs" font-weight="bold" fill="#111">0.1</text>
<text x="916" y="1160.5" font-size="21.5" text-anchor="middle" textLength="30" lengthAdjust="spacingAndGlyphs" font-weight="bold" fill="#111">0.2</text>
<text x="971.2" y="1160.5" font-size="21.5" text-anchor="middle" textLength="30" lengthAdjust="spacingAndGlyphs" font-weight="bold" fill="#111">0.3</text>
<text x="1026.5" y="1160.5" font-size="21.5" text-anchor="middle" textLength="30" lengthAdjust="spacingAndGlyphs" font-weight="bold" fill="#111">0.4</text>
<text x="1081.8" y="1160.5" font-size="21.5" text-anchor="middle" textLength="30" lengthAdjust="spacingAndGlyphs" font-weight="bold" fill="#111">0.5</text>
<text x="1137.1" y="1160.5" font-size="21.5" text-anchor="middle" textLength="30" lengthAdjust="spacingAndGlyphs" font-weight="bold" fill="#111">0.6</text>
<text x="1192.4" y="1160.5" font-size="21.5" text-anchor="middle" textLength="30" lengthAdjust="spacingAndGlyphs" font-weight="bold" fill="#111">0.7</text>
<text x="1247.6" y="1160.5" font-size="21.5" text-anchor="middle" textLength="30" lengthAdjust="spacingAndGlyphs" font-weight="bold" fill="#111">0.8</text>
<text x="1302.9" y="1160.5" font-size="21.5" text-anchor="middle" textLength="30" lengthAdjust="spacingAndGlyphs" font-weight="bold" fill="#111">0.9</text>
<text x="1358.2" y="1160.5" font-size="21.5" text-anchor="middle" textLength="11.8" lengthAdjust="spacingAndGlyphs" font-weight="bold" fill="#111">1</text>
<text transform="translate(736 968.1) rotate(-90)" font-size="24.5" font-weight="bold" textLength="133.5" lengthAdjust="spacingAndGlyphs">Current (A)</text>
<text x="1028.4" y="1195" font-size="24.5" font-weight="bold" textLength="131.8" lengthAdjust="spacingAndGlyphs">Voltage (V)</text>
<path d="M845.2 1011H891" stroke="#111" stroke-width="2.4"/>
<path d="M845.2 1031.4H887" stroke="#111" stroke-width="2.4" stroke-dasharray="11 5.5"/>
<text x="907.5" y="1015" font-size="20" font-weight="bold" fill="#111" textLength="114" lengthAdjust="spacingAndGlyphs">Experiment</text>
<text x="907.5" y="1038.2" font-size="20" font-weight="bold" fill="#111" textLength="107.2" lengthAdjust="spacingAndGlyphs">Simulation</text>
<rect x="1540.1" y="654.8" width="171.7" height="84.6" fill="none" stroke="#222" stroke-width="3"/>
<text x="1555" y="711.7" font-size="42" fill="#000" stroke="#000" stroke-width="0.9" textLength="140" lengthAdjust="spacingAndGlyphs">At 15 ns</text>
<path d="M1445.2 796.3L1488.1 779.4L1826.9 828.6L1829.1 884.3L1788.4 904.1L1450.7 848Z" fill="#2a2d8a"/>
<path d="M1548.4 834.2L1548.8 832.2L1549.7 830.3L1549.6 828.3L1549 826.7L1547.4 827.1L1545.9 827.8L1544.4 828.2L1543.2 829.3L1542.1 830.6L1540.8 831.3L1539.3 830.9L1539 832.6L1539.1 830.7L1540.5 828.9L1542.9 829.2L1545.3 828.9L1547.4 828L1549.1 826.5L1551.3 827L1553.5 827.6L1555 829.2L1556.1 830.9L1557.3 832.6L1557.9 834.5L1559.9 835.1L1561.7 836.1L1562.5 837.8L1564.5 838.1L1566.3 837.2L1567 835.2L1566.6 833.2L1564.9 832.1L1563 832L1565 831.9L1564.9 833.8L1564.8 835.7L1565.1 837.5L1566.7 838.5L1568.1 839.7L1568.2 841.5M1588.2 838.2L1585.8 838.2L1584.1 839.5L1582.4 837.9L1580.3 837L1578.9 835.2L1577.6 833.5L1578 831.5L1577.2 829.6L1578.2 828L1578.9 826.4L1580.6 826.6L1581.9 827.9L1582.9 829.3L1584.5 829.5L1585.6 830.9L1585.9 832.7L1583.8 833.5L1582 834.9L1579.8 835.4L1577.6 835L1575.6 834.1L1573.8 832.9L1572.2 831.5L1570.2 831.1L1568.6 832.3L1567.6 834L1565.8 834.8L1564.5 833.3L1564.8 831.3L1566.6 830.4L1568.5 830.8L1569.7 832.3L1570.7 833.9L1570.3 835.7L1568.3 835.3L1566.3 835.4L1564.9 836.7L1563.9 834.9L1563.2 832.9L1564.3 831.2M1578.6 817.3L1578.9 819.4L1579.4 821.4L1579.9 823.4L1577.9 824.4L1576.3 825.9L1574.2 826.3L1572.1 826L1570.2 825.4L1568.2 825.9L1566.5 827L1565.8 829L1566.2 830.9L1567.6 829.5L1569.5 829.2L1569.9 827.3L1570.5 825.6L1571.8 824.2L1572.3 822.5L1574.2 822.4L1574.1 824.5L1573.6 826.5L1574.2 828.4L1573.8 830.4L1571.6 830.5L1569.8 829.6L1567.8 829.1L1568.7 827.3L1568.4 825.4L1566.9 824.2L1565 824L1563.1 823.5L1561.5 822.7L1560.8 821L1559.8 819.6L1558.6 818.4L1556.8 818.3L1555.4 817.3L1553.9 818.4L1552.4 819.6L1550.7 819.9M1565 825.8L1566.9 825.5L1568.2 824.2L1568.5 822.3L1567.9 820.6L1568.3 818.9L1568.1 817.2L1569.2 815.8L1570.4 814.6L1571.1 813.1L1571.9 811.8L1573.3 810.9L1575.1 811.5L1576.8 811.2L1578.3 810.6L1577.6 809L1579.3 808.8L1580.1 810.9L1581.2 812.7L1582.7 813.8L1583.8 812.8L1585.1 812.1L1586.5 811.7L1586.1 814.1L1585.2 816.3L1585.7 818.3L1586.2 816.8L1587.8 817.4L1589.2 818.3L1589.6 816.8L1590.3 815.5L1588.4 814.4L1589.4 816.1L1588.5 818.3L1586.8 820L1585.4 821.9L1587 822.4L1588.5 822.7L1588.5 820.9L1589.4 819.7L1587.2 819.1M1552.9 843.7L1555.1 843.4L1556.9 842L1559 841.3L1558.5 839.3L1556.6 839L1555.1 839.7L1554.9 841.4L1553.5 842.2L1552.4 843.5L1551.8 844.9L1554 845.1L1553.5 843L1555 841.2L1554.6 839.1L1552.9 838.7L1552.2 836.8L1550.6 836.2L1549 836.5L1547.3 836.5L1545.9 837.1L1544.5 837.6L1543.3 838.6L1543.4 840.3L1544.7 841.9L1545.7 843.5L1544.4 844.1L1545.1 845.8L1545.7 847.4L1545.2 848.8L1545.3 850.4L1544.2 851.2L1543 851.8L1542.2 852.9L1542.4 854.4L1541.1 854.8L1541 852.4L1540 850.7L1538.6 850.5L1537.4 849.1L1536 848.6M1561.2 823.6L1559.4 823.2L1559.6 825.3L1558.6 827L1558.8 829L1560.2 830.6L1562 831.5L1562.8 833.3L1562.1 835L1560.3 835.4L1560.8 837.2L1562.1 838.6L1562.8 836.5L1563.2 834.5L1564.6 832.9L1564.8 830.9L1565.3 829L1566.3 827.3L1568.2 827L1569.3 825.5L1569.1 823.6L1567.6 822.4L1569 821.2L1570.9 821.7L1572.7 822.1L1574.5 822.8L1576.1 823.8L1577.5 825L1579.1 825.8L1580.8 826.1L1581.5 824.5L1581.1 822.6L1582.8 822.5L1584.3 823.4L1585.7 824.3L1587.2 824.8L1588.7 825.5L1589.8 826.7L1591.3 826.8L1592.7 827.2L1594 828M1555.2 821.2L1553.5 821.5L1553.5 823.7L1551.8 824L1550.4 825.1L1548.7 825.5L1547.7 824.2L1546.8 822.8L1546.1 821.3L1544.7 822.3L1543.2 822.8L1541.7 822.6L1540.8 821.4L1539.4 821.6L1539.1 820L1537.7 820.3L1536.3 821L1535 821.6L1534.8 823.5L1533.8 824.8L1536 826.1L1535.1 827.4L1533.9 826.7L1532.7 826.2L1531.4 826.6L1531.7 828.6L1531.4 830.3L1530.2 830.8L1530 832.2L1530 830.8L1532.7 830.7L1535 831.7L1535.8 829.7L1534.5 829L1533.6 827.9L1533.3 826.2L1535.5 825L1538 824.8L1539 823L1539.8 821.2L1539.4 819.6M1598.7 811.5L1597.8 809.9L1596.2 808.6L1593.7 808.6L1594 807.2L1595.1 806.6L1595.1 805.2L1596.3 804.9L1597.7 805.5L1597.4 804.1L1596.2 802.7L1594.6 801.6L1593.1 800.4L1591.8 800L1592.5 802.1L1593 804.4L1594.1 805.9L1595.4 805.8L1595.8 808L1595.5 810.4L1594.5 812.7L1595.7 813.7L1597 814.5L1597.6 816.4L1598.8 816.2L1599.6 817.9L1600 818.9L1597.9 817.8L1595.8 816.8L1593.9 815.6L1594.1 814L1593.5 812.4L1594.9 812.5L1595.6 811.3L1594.8 809.8L1595.2 808.5L1593.8 807.1L1591.9 806.2L1591.4 804.7L1592.7 804.4L1591.3 803.1M1573.3 851.1L1573.6 848.8L1573.5 846.4L1574 844.3L1575.8 843.7L1576 841.5L1576.2 839.4L1577.1 840.8L1577.3 842.5L1578.8 843.1L1580.4 843.5L1581.6 844.6L1583.1 843.6L1582.4 841.4L1581.9 839.2L1583.1 837.9L1584.7 837.3L1583.3 835.5L1584.1 833.8L1585.6 833.1L1586.8 831.8L1587.2 830L1587.8 828.3L1585.7 827.3L1584.7 825.5L1585.3 823.9L1584.7 822L1583.7 820.3L1583.8 818.6L1581.6 818.3L1580.4 820.3L1578.1 820.6L1577 819L1577 817.3L1577.2 815.6L1577.7 814.1L1579.4 814.8L1581 814.7L1582.4 816.1L1584 816.9L1585.6 817.1M1565.1 824.3L1563.2 824.3L1561.7 823.2L1559.9 823.9L1558.3 824.9L1557.6 826.8L1556 827.7L1555.1 829.4L1554.5 831.2L1553.2 832.5L1551.8 831.5L1550.1 831.9L1549.5 833.6L1548 834.2L1547.9 836L1547.1 837.4L1547.2 839.2L1547.5 841L1549.8 840.7L1551.8 841.6L1554 841.7L1555.8 840.3L1556.6 841.9L1556.3 843.6L1557.1 841.4L1558.5 839.7L1559.3 837.7L1560.3 835.7L1562.3 836.3L1564.2 836.7L1565.7 837.9L1566.5 839.6L1568.3 840.1L1570 840.8L1571.9 840.6L1572.7 838.6L1574.4 837.9L1576.1 838.3L1577.7 838.8L1579.3 837.7L1577.7 836.1M1573 828.9L1570.9 828.8L1569.7 830.4L1568.9 832.2L1569.2 834.1L1568.7 835.9L1567.9 837.6L1565.9 837.6L1564 837L1562.9 838.5L1562 840L1560.6 841.1L1558.8 841.4L1557 840.7L1557.8 838.7L1559.4 839.9L1561 840.9L1562.3 842.3L1563.2 843.8L1562.3 845.2L1562 846.8L1561.5 848.4L1562.6 849.7L1564.6 849.3L1566.6 849.3L1567.8 847.4L1569.6 846.4L1570.5 847.7L1571.3 849.1L1571.4 850.7L1572.4 851.9L1574 850.7L1575.8 850.2L1577.3 848.9L1579 848.2L1580.6 848.6L1580.8 850.1L1578.6 849.6L1576.4 848.7L1574.7 847.1L1572.9 847.9M1579 817.9L1578.5 820.1L1579.3 822L1577.2 823L1575.5 824.4L1573.8 825.8L1573 824L1572.1 822.4L1570.2 823.2L1568.1 823.4L1566.8 825.1L1565.2 824L1563.5 825.1L1562.6 826.9L1564.2 828.2L1565.7 829.5L1567.6 829.2L1569.5 828.8L1571.1 827.8L1571.8 826.1L1573.6 825.6L1575.1 826.8L1576.5 828L1578.2 827.7L1578.8 825.9L1579.7 824.5L1580.1 826.5L1581.1 828L1582.7 828.3L1584.1 827.4L1584 825.5L1582.2 824.2L1580.3 823.2L1580.6 821.5L1580.9 819.8L1580.4 818.1L1578.1 818.3L1575.9 818.2L1573.8 818.2L1572.5 820L1573.1 822.1M1565.4 841.3L1567 842.2L1567.3 843.9L1566.4 845.4L1565 846.5L1563.1 845.8L1561.4 846.3L1563.3 846.6L1565.3 846.8L1563.8 845.2L1562.1 845.8L1562.2 847.5L1564.2 847.7L1564.5 849.3L1563.8 850.7L1563.1 852.1L1562.9 853.6L1561.9 854.8L1561.2 856.1L1561.6 857.5L1561.9 858.9L1563.8 858.9L1565.7 858.9L1564.4 859.7L1562.5 859.2L1561.5 860.2L1559.8 860.5L1559.2 861.7L1559.5 863L1560.4 864.2L1559 864.7L1558.7 866L1559 866L1558.7 863.4L1557.2 861.6L1556.9 859.1L1556.6 856.6L1557.3 854.2L1558.3 851.9L1559.3 849.7L1558.6 847.5M1585.1 818.8L1583.2 820.3L1581.5 821.9L1580 820.5L1580.2 818.8L1578.7 817.5L1577.9 815.8L1578.5 814.3L1578.8 812.8L1576.6 813.6L1574.7 814.9L1573.1 816.5L1573.2 818.7L1571.1 819L1569.1 819.8L1567.5 821.2L1566.2 822.9L1566.3 825L1567.7 826.6L1568.8 828.2L1569.5 830L1570.9 831.4L1572.3 832.5L1573.8 831.4L1575.6 831.1L1576.8 829.7L1578.2 828.6L1578.2 826.7L1577.4 824.9L1576.9 823L1574.8 822.5L1576.3 821.6L1577.7 820.6L1579.1 819.6L1579.3 817.9L1581 818.4L1581.1 820.6L1580.6 822.7L1582.2 823.6L1583.8 823.6L1585.2 824.7M1558.6 816.7L1557 817.8L1557.1 820L1556.8 822.1L1555.4 823.5L1555.2 821.7L1554.4 820.2L1554 818.5L1553.3 817L1553.9 815.3L1555 813.9L1554 812.7L1554 811.1L1555.6 810.1L1557.7 810.2L1559.8 811.1L1561.7 812.2L1563.8 812.3L1564.7 810.9L1564.4 809.4L1563 808.4L1561.2 808.5L1559.4 808.4L1557.8 809.9L1556.5 809.1L1555.4 808.1L1553.9 807.5L1554.5 806L1556.6 806L1557.2 804.5L1555.8 803.8L1554.8 802.8L1555.5 801.4L1556.1 800.1L1558.2 801.1L1559.9 800.5L1561.9 801.7L1562.8 804L1563.9 806.2L1565.8 806L1567.1 805M1579.4 824.4L1577.6 823.2L1577.7 821.4L1578.4 819.9L1579.3 818.5L1578.5 816.9L1577 815.6L1575.2 814.8L1573 815.4L1570.9 815.8L1569.1 816.8L1567 817.3L1566.3 815.8L1566.8 814.2L1568 812.9L1568.8 811.5L1567.2 810.7L1565.5 810.1L1564.5 808.8L1562.5 809L1562 807.5L1560.9 806.4L1560.5 805L1559.5 803.8L1557.7 804.6L1558.2 803.2L1556.8 802.5L1556.8 801.1L1556 800.1L1555.5 800L1557.4 801.6L1559.5 802.4L1560.8 804.6L1559.1 805.9L1558.5 808.2L1557.8 810.4L1556.1 811.4L1555.1 813.3L1553.4 814.1L1552.5 816L1551 817.1M1635.8 854.6L1633.8 853.9L1631.9 854.1L1630.5 855.2L1629.4 856.6L1628.2 857.7L1630 858.2L1631.9 858.7L1633.6 859.4L1635.2 858.1L1636.8 856.6L1634.8 855.6L1633.2 856.5L1633.2 858.1L1635 858.3L1635.5 859.9L1635.1 861.5L1634.5 863L1634.7 864.5L1632.9 864.8L1631 863.7L1629.5 862.1L1627.8 860.9L1625.9 860.3L1624.2 860.5L1622.5 860.8L1622.8 862.4L1623.1 863.9L1622.2 865.1L1621.1 866.1L1622.1 867.5L1622.9 868.8L1624.9 869L1626.4 867L1627.3 868.2L1629 868.9L1630.9 867.8L1630.8 865.4L1630 863.1L1628.5 861.6L1628.1 863.1M1622.9 852.4L1623.9 850.4L1622.7 848.9L1623.1 846.8L1621.3 846.6L1621 844.6L1620.2 843L1618.6 843.8L1617.4 845L1615.8 845.6L1615.6 847.4L1616.1 849.2L1616.2 851L1616.6 852.8L1617.6 850.7L1617.9 848.6L1618.9 846.6L1620.3 844.9L1622.5 844.8L1624.3 843.6L1624.3 845.5L1623.1 846.8L1621.6 847.6L1620 846.6L1619.8 844.6L1619.8 842.6L1618.8 841.1L1619.5 839.2L1620.9 837.7L1619.4 836.9L1618 838L1616.3 838.2L1615 838.3L1617.3 838.9L1618.9 840.4L1620.3 842L1619.2 843.4L1618.9 845.2L1619.4 847.1L1619.2 848.9L1618 850M1638 857.5L1639.8 857.9L1641.6 857.3L1642.7 855.6L1644 854L1645.2 855.2L1646.7 854L1647.2 852L1648.9 851.4L1649.9 852.7L1651.2 853.5L1652 854.4L1650.4 852.6L1651.5 851.1L1651.7 849L1650.4 847.2L1650.5 845.2L1649.2 843.4L1647.8 841.7L1648.8 840.3L1649.7 838.8L1650.6 837.3L1651.7 836L1651.2 834.2L1651.1 832.4L1651.7 830.9L1649.8 829.8L1647.6 829.5L1645.4 829.7L1643.3 829.2L1642.2 827.7L1640.9 826.4L1642.6 826L1642.3 824.4L1641.7 822.8L1642.5 821.5L1643.3 820.2L1643 818.6L1642.6 817.2L1642.2 815.7L1641.7 814.3M1638.4 823.9L1640 823.3L1641.8 823.4L1643.5 823.3L1644.9 822.5L1644.5 821L1644.4 819.4L1646 819.2L1647.3 818.4L1648.9 818.5L1650 817.5L1651.3 817L1651.1 815.5L1651.5 814.3L1651.6 812.9L1652 812L1651.7 814.6L1652 816L1649.7 816.2L1648.5 814.9L1649.8 814.4L1650.7 813.4L1652 813.6L1649.9 813.2L1648.3 812.3L1646.3 813.9L1644.1 814.9L1643 817.2L1640.9 817.8L1639.2 817.1L1638.4 815.8L1637.3 818.1L1635.5 819.5L1633.5 819.7L1632.5 821.9L1630.6 822.6L1628.7 823.1L1626.9 824L1625.8 825.9L1626.4 828.1L1627.7 830M1652 844.1L1652 842.5L1649.7 842L1647.4 841.9L1645.9 840.3L1643.7 840L1641.6 840.1L1639.7 841.1L1637.6 840.6L1635.6 840.7L1634 842L1632.1 842.4L1631.3 840.6L1629.4 840.3L1630.4 838.6L1628.9 837.4L1627.1 837.2L1625.7 838.6L1624.4 837.2L1623.9 835.5L1623.9 833.7L1625.8 832.8L1627.8 833.4L1629.9 833.7L1631.7 833L1631.1 831.3L1632.4 830L1633.1 828.4L1633.3 826.7L1633.7 825.1L1635 824L1636.9 824L1638.6 825.2L1637.2 827.1L1635.2 827.3L1633.9 829.2L1632.2 830.3L1631.8 832.4L1633.5 833.6L1634.7 835.4L1636.6 835.7M1629.8 851.3L1630.8 849.5L1632.8 848.9L1633.2 850.7L1634 852.3L1635.6 853.1L1637.3 851.9L1639.1 852.2L1640.8 852.7L1642.5 851.9L1643.7 853L1643.8 854.7L1642.8 856.3L1644.4 856.7L1646 857L1647 858.2L1648.7 857.4L1650 858.2L1649 859.8L1646.8 860L1645.4 861.3L1645.3 862.9L1643.6 863.8L1641.4 863.1L1640.6 860.8L1641.8 859L1642.9 857.1L1643.2 855L1641.1 854.3L1639.7 852.5L1641.5 852L1642.9 850.6L1643.7 848.8L1645.3 847.8L1647 847.4L1647.1 845.4L1646 843.5L1643.8 843.2L1644.4 841.4L1643.7 839.5L1644.5 837.8M1645.3 861.7L1644.6 863.2L1645.2 864.6L1646.9 864.3L1648.5 863.1L1649.8 861.7L1649.8 863.3L1647.5 862.9L1645.3 862.8L1643.3 863.3L1641.7 864.3L1639.8 864.7L1638.8 866L1637 866.6L1635.8 867.7L1637.3 868.4L1639.2 867.6L1640.9 867.8L1641.1 869.2L1641 870.6L1640.6 872L1638.6 872L1639.4 869.7L1641.2 869.4L1642.9 868.2L1644.1 866.3L1645.6 866.7L1647.2 866.9L1648.6 865.4L1647.7 863.1L1645.6 861.9L1644.3 859.9L1643.1 857.8L1641.2 856.5L1639.5 855L1637.5 855.1L1635.7 853.9L1634.7 851.9L1635.5 850L1636.1 848L1638 847.7M1628.5 855L1630.5 854.7L1632.3 853.6L1633.8 854.7L1635.6 855.2L1637.3 854.1L1639 853.2L1639.5 851.1L1638.1 849.4L1636.9 847.7L1635.1 848.6L1637 847.9L1638.8 847.7L1639.9 849.1L1641.4 847.8L1641.5 845.8L1642.6 844.2L1640.6 843.3L1638.6 843.9L1638.2 845.8L1638.2 847.6L1640 847.1L1641.5 848.1L1643.1 848.8L1644.3 850L1645.9 850.6L1645.8 848.5L1645.5 846.4L1643.3 845.7L1641.3 845L1639.3 845.8L1637.7 847L1636.5 848.5L1634.5 848.8L1632.7 847.7L1630.9 848.5L1629.2 849.2L1628 847.5L1627.6 845.5L1626.1 844.3L1624.6 843.2M1716.8 867.3L1715 866.8L1714 865L1715.5 863.3L1716.5 861.3L1718.3 860.3L1719.1 858.3L1720.3 856.6L1720.3 854.7L1720.2 852.7L1718.5 852.1L1717.1 851L1715.4 850.2L1714 849.3L1712.2 849.2L1713.3 851.1L1715.1 852.3L1715.9 854.2L1716.6 856.1L1717.8 857.8L1717.4 859.7L1715.8 858.8L1715.1 857L1715.2 855L1713.9 853.8L1712.1 853.9L1711.1 852.5L1710.5 850.8L1710 849.1L1710.6 847.3L1710.4 845.6L1709.3 847.2L1708.2 848.7L1706.6 848.4L1705 848.3L1703.5 847.8L1702.9 846.3L1705.1 845.7L1706 844.1L1707.8 843L1709.4 844.8L1711.6 845.5L1712.8 847.4M1744.2 877.8L1745.6 878L1745.2 879.5L1743.6 880.6L1741.8 878.7L1740.8 876.4L1740.1 874.1L1739.1 871.9L1737.1 870.7L1737.5 868.5L1736 866.8L1734.3 865.2L1732.2 864.5L1730.3 865.1L1731.6 866.2L1733.3 866.7L1734.8 867.5L1736.2 868.4L1736.3 870.1L1736.6 871.7L1737.9 872.6L1738.8 873.8L1738.5 875.4L1739.7 876.4L1741 874.8L1740.7 872.5L1741.9 871L1743.5 871.3L1744.8 870L1746.2 869L1747.6 869.4L1747.1 871.1L1747.8 872.4L1748.8 873.4L1747.5 874.8L1746 872.7L1747 871.1L1746.2 868.9L1746.2 866.7L1745.6 864.5L1745 862.4L1743.3 860.8L1741.1 859.9M1723.8 877.6L1725.7 877.6L1725.4 879.1L1725.1 880.6L1723.6 881.4L1723 882.7L1722.8 884.2L1721.3 882.3L1720.1 883.3L1718.3 882.7L1716.5 881.6L1714.8 880.5L1713.3 881.1L1711.7 879.9L1710 879.7L1708.5 878.4L1708.5 876.1L1707.6 874.1L1706 873.3L1704.8 874.1L1705.9 875.6L1708.2 875.4L1710.5 875.1L1712.1 876.1L1714.2 875.1L1712.8 873.6L1711.2 872.6L1710.4 870.5L1712.2 869L1714.4 868.6L1715.7 870L1716.8 871.4L1716 872.8L1714.9 874L1716.6 874.9L1718 876L1720.1 876.1L1721.9 874.9L1723.8 873.8L1724.4 871.6L1723.9 869.4L1725.5 868L1727.3 867.1M1718 840.7L1719.8 840L1721.8 840.1L1723 842L1724 844L1726 844.5L1727.6 845.8L1729.3 846.8L1728.3 848.7L1726.7 847.7L1726.5 845.9L1724.7 845.2L1722.8 845.4L1720.9 845.2L1719.2 846.3L1717.3 846.5L1715.9 845.5L1715.7 843.8L1715.9 842L1714.7 840.9L1712.9 841.1L1711.2 841.6L1710.6 840.1L1712.5 839.3L1714.6 840.2L1716.4 841.6L1717.2 843.7L1716.6 845.8L1714.8 846.1L1713.5 844.9L1712.2 846.3L1710.5 846.1L1709.1 845.2L1707.5 845.1L1706.2 844.2L1705.3 842.9L1704.4 841.7L1703.3 843.2L1702.1 844.6L1700.5 844.9L1699.1 845.4L1699.5 847.6L1699.2 849.5M1739 858.2L1740.6 857.9L1741.9 858.9L1743.4 859.4L1743.8 861.2L1743.7 863L1743.4 864.8L1741.1 864.8L1738.8 864.9L1736.6 865.1L1735 866.4L1733.5 867.7L1731.5 867L1729.4 866.1L1728.9 864L1729.8 862.2L1730 860.1L1728.1 859.2L1729.7 858.1L1731 856.8L1732.1 855.2L1731.2 853.4L1731.7 851.6L1733.3 850.9L1735 850.6L1736.2 849.4L1734.4 848.3L1733 850L1733.5 851.9L1735.2 852.7L1736.6 853.8L1737.3 855.5L1738.9 856.2L1740.4 857L1742 856.6L1743.3 855.6L1744.9 855.6L1746.2 854.5L1747.2 853.3L1748.4 852.3L1749.9 852.5L1750.9 851.3L1752 850.4M1680 868.4L1680.8 866.2L1680.7 864.3L1680.2 862.7L1680.1 860.9L1680 859.5L1682.8 859.3L1685.6 859L1688.3 859.1L1690.9 859.7L1692.6 861.3L1694.8 860.1L1697 861.3L1699.2 862.2L1701.6 861.7L1703.8 860.6L1706.1 860.3L1708 861.5L1710.2 862L1712.2 862.8L1713.6 861.1L1715.2 859.6L1716.6 858L1717.3 856.1L1719.1 855.2L1720.1 857L1719.2 858.7L1719.7 860.6L1718 861.2L1716.7 862.4L1715.4 863.6L1715 865.3L1713.9 866.6L1712.2 867.1L1710.6 867.3L1709 867.9L1707.7 868.7L1706.8 870L1705.2 869.8L1703.8 870.5L1702.7 871.3L1701.8 872.5L1702.1 874.1M1719.3 838.4L1720.2 840.6L1719.8 842.8L1719.8 845L1721.3 846.5L1722.9 845.5L1724.6 846.7L1726.2 848.1L1726.5 850.2L1727.4 852L1727.4 854L1727 856L1726.5 857.9L1727.5 859.5L1729.3 859.8L1730.2 861.4L1730.7 859.4L1730.4 857.4L1732.1 856.7L1733.9 857.1L1735.7 856.8L1737 855.7L1736.2 853.8L1737.9 853.6L1739.2 852.5L1740.7 851.7L1741.7 853.1L1741.4 855.1L1740 856.9L1739.2 858.7L1738 860.4L1738 862.3L1736.9 864L1737.3 865.7L1737.6 867.3L1737 869L1735.1 869.9L1734.1 871.4L1733 872.8L1732.5 874.4L1733.1 875.9L1732.4 877.3L1730.9 878.4M1713.5 859.2L1711.8 858.8L1710.8 860.3L1710 861.8L1709.5 863.5L1710.3 865.3L1710 867L1708.5 867.6L1706.8 867.5L1706 865.7L1705.7 863.7L1704.3 862.8L1702.7 862.9L1701.4 863.6L1699.9 863.1L1699.3 861.3L1699 859.5L1700.3 857.6L1700.2 855.7L1700 853.9L1702 852.8L1704.4 852.4L1706.3 853.8L1707.7 852.2L1706.6 851L1704.9 851.3L1704 849.9L1705.6 848.6L1706.3 846.8L1705.3 845.5L1703.8 845.8L1702.9 847.5L1701.4 848.3L1700.3 849.6L1699.8 848.1L1700.5 846.3L1700 844.7L1700 843.1L1699.7 841.5L1700.7 840L1702.9 839.4L1704.7 838.3L1707.1 838.7M1735.7 855L1735.8 857L1733.8 857.7L1731.8 858.4L1729.8 859.1L1729 860.9L1728.7 862.7L1728.3 864.5L1726.4 865L1725.3 866.5L1726 868.1L1727.8 868.6L1729.5 867.6L1730.8 868.6L1731.1 866.5L1730.6 864.3L1731.5 862.5L1733.1 861.5L1734 859.8L1734.5 857.8L1732.6 856.8L1730.6 857.5L1732 858.6L1733.1 860.1L1734.7 860.8L1736.4 860L1737 858.2L1736.2 856.3L1734.8 854.7L1732.9 853.6L1733.7 851.9L1733.1 850.1L1732.4 848.3L1731.6 846.6L1732.4 845.1L1733.9 844.2L1735.5 845.1L1736.9 846.5L1737.9 848.1L1738.4 850.1L1738.4 852.1L1738.7 854.1L1739.7 855.6M1689.9 862.2L1689.2 860.6L1691.3 859.2L1693.6 858L1695.6 856.6L1697.5 855.1L1699.9 855.6L1702.1 856.6L1704.4 855.9L1706.5 855L1707.6 853.2L1708.4 851.4L1707.7 849.8L1706.1 849.4L1706.5 847.6L1708.4 846.6L1707.8 845L1706.2 844.8L1704.6 845.3L1703.3 846.4L1704 848.6L1703.2 850.3L1704.9 851.8L1705.6 853.8L1705 855.6L1705.1 857.6L1706.3 859.3L1707.3 861.1L1708 862.9L1710.1 861.9L1710.3 859.8L1711.5 858L1712.5 856.1L1712.8 854.2L1711.5 852.9L1709.8 852.7L1708.4 853.8L1709.4 852L1708.4 850.7L1709.8 849.2L1711.8 848.3L1713.9 847.8L1716 847.6M1716.4 875L1718.3 875.6L1719.3 876.9L1718.2 878.1L1716.9 879L1717.1 880.5L1717.1 882L1718.3 883.1L1716.8 883.7L1715 883.6L1713.9 884.5L1714.5 885.8L1713.7 886.9L1712.5 887.6L1714.7 886.7L1715.5 884.2L1717.5 883L1717.1 880.6L1715.8 878.7L1715.2 876.5L1715.4 874.1L1717.5 873.9L1718 875.5L1718.5 877L1717.1 877.9L1715.3 877.7L1713.7 876.5L1713.9 874.2L1714.3 871.9L1716.1 870.3L1718.1 870.7L1720.1 870.8L1721.5 872L1723.5 871.7L1725.4 871.6L1727.3 871.5L1729.1 871.9L1727.9 873.3L1726 873.4L1724.1 873.8L1722.2 873.6L1720.4 872.5L1720 870.3M1738 855.9L1737.3 853.9L1736.9 852L1737 850.2L1735.6 848.7L1736.2 847.1L1737.4 846L1737.5 844.2L1735.6 843.2L1733.5 842.9L1734.8 841.8L1735.4 843.9L1736.2 842.5L1734.3 841.8L1733.2 840.3L1732.1 838.9L1730.2 838.3L1729.1 837L1728.1 835.6L1727.7 834.1L1727.7 832.6L1726.1 831.8L1726.6 830.4L1726.3 829L1727.8 828.3L1729.6 828.7L1731.5 829.1L1733.3 829.9L1735 830.5L1734.9 829.1L1734.1 827.7L1734.2 826.3L1732.1 826.4L1730.9 828.7L1728.8 829.4L1727.2 828.7L1725.6 830.5L1723.7 831.6L1721.9 832.7L1720.2 832.2L1718.4 832.2L1716.5 832.5L1715.1 834.1M1727.8 854.6L1726.1 853.5L1725.9 851.6L1724.3 850.6L1724.3 848.7L1724.8 847L1723.9 845.5L1722.2 844.7L1720.3 845.1L1718.6 846.2L1718.5 844.4L1718.1 842.8L1718.4 841.1L1717.2 839.9L1718.5 838.6L1720.2 837.8L1721.6 839.6L1723.4 839L1724.7 837.9L1726.2 837L1728 836.8L1729.9 837.6L1731 839.5L1732.3 841.2L1733.4 842.9L1735.2 843L1736.9 843.1L1738.3 842.2L1739.8 843.3L1740.5 845.2L1741.6 846.8L1741.6 848.9L1742.5 850.5L1743.4 852.1L1744.8 853L1744.7 855L1744.8 856.9L1743.7 858.8L1742.9 860.6L1744.2 861.6L1744.2 863.4L1743.6 865.2L1741.8 866.5M1701.7 829.8L1700.7 831.7L1699.2 832.2L1698 831.7L1696.8 831.3L1695.4 832L1694.5 833.9L1694.3 836.1L1695.1 838.5L1697.6 839L1698.9 837.6L1701.2 837.2L1702.1 835.7L1700.9 835L1699.8 834.3L1700.8 832.9L1703.2 833.1L1705.4 832.6L1706 831.1L1705.7 829.7L1704.3 829.4L1702.8 830.1L1701.4 829.9L1700.2 831.5L1700.1 833.8L1700.4 836.2L1700.7 838.6L1702.4 840.5L1704.7 841.3L1706.5 840.2L1707.1 838.6L1708.6 837.3L1709.6 835.9L1708.6 837.7L1707 838.6L1705.5 839.6L1704.9 841.6L1704.8 843.8L1706.5 842.5L1705.4 841.4L1706.3 839.8L1708.2 841.2L1706.9 842.6M1708.8 856.5L1707.9 855L1706.9 856.4L1705.3 856.5L1705.5 858.5L1706.6 856.6L1707.2 854.7L1709.5 855.2L1710.8 856.9L1712.4 858.3L1714.6 858.6L1716.5 859.5L1718.4 858.7L1717.4 857L1715.9 855.9L1714.7 854.5L1714.8 852.6L1714.4 850.8L1713.5 849.2L1712 850.3L1711.2 852.1L1711.7 854.1L1712.1 856.1L1711.5 857.8L1713.6 858.5L1715.5 859.4L1717.2 858.1L1718.9 859.4L1720.9 858.9L1722.8 859.5L1723.9 861L1724.6 862.8L1725 864.6L1726.9 865L1726.3 866.7L1725.4 868.3L1725.2 870L1724.3 871.5L1722.4 871.7L1720.7 870.6L1719.1 871.4L1717.3 871.7L1715.8 872.3M1738.1 855.4L1738.4 853.5L1736.8 852.1L1735.9 850.3L1737.3 849.3L1738.5 848.1L1739.7 847L1740.3 845.4L1741.7 844.8L1742.5 843.5L1742.3 841.8L1740.3 841L1738.1 841.8L1735.9 842.2L1733.8 841.8L1731.6 842.1L1730.3 844L1728.6 845.4L1726.7 846.2L1725.3 844.9L1723.5 844.4L1721.5 844.6L1719.8 843.9L1720.5 842.2L1721 840.6L1721.5 839L1720.3 837.8L1718.7 837.1L1718.5 835.6L1719.8 834.4L1721.8 834.9L1722.1 833.4L1723.7 832.6L1723.8 831.1L1725 830L1723 830.5L1721.1 831.1L1719.8 833.1L1718 833L1716.4 832.6L1716.5 831.1L1716 829.8L1718.1 830M1714.7 878.9L1713.7 880L1712 880.2L1712 881.6L1710.5 882L1710.2 883.4L1711.1 884.7L1710.2 885.8L1708.9 886.3L1707.9 887.1L1706.3 886.3L1705.3 884.2L1704.1 882.4L1702.6 881.5L1702.1 882.7L1701.6 883.9L1700.1 883.6L1699.8 881.2L1701.9 879.7L1704 878.2L1706.3 878.4L1708.3 877L1709.9 878L1710.2 879.6L1712.1 880.2L1714.2 880.1L1716.4 879.8L1718.3 880.1L1720.4 879.9L1722.2 878.7L1724.2 878.7L1726.1 878.3L1726.6 876L1725.2 874.2L1726.6 872.5L1728.1 871.1L1729.6 869.6L1730 867.4L1728.9 865.5L1727.1 864.5L1726.3 862.5L1724.7 861.2L1725.2 859.2M1680.5 836.4L1682.8 838.1L1685.1 839.8L1686.4 842L1689 842.6L1691.2 841.5L1690.2 842.9L1689 842.6L1688.2 841.6L1687.1 842.6L1686 842L1685.7 840.7L1688.2 841.9L1690.4 843.5L1691.1 845.7L1690.8 847.6L1689.6 848.4L1688.5 849.2L1687.7 850.7L1686.5 851L1686.3 849.4L1685.1 849.5L1684.9 851.3L1684.7 853.2L1683.8 852.2L1682.8 851.5L1682.9 853.4L1681.9 854.3L1680.9 853.9L1682.6 852.1L1684.6 850.6L1686.7 852.2L1689.3 852.7L1691 854.5L1692.4 856.3L1695 856.5L1697.5 856.2L1699 857.9L1698.6 859.5L1698.8 861.4L1697.5 862L1696.2 861.1L1696.2 859.1M1730.1 859.8L1728.2 860.4L1727.3 858.5L1726.5 856.6L1727.4 854.9L1729.1 854.1L1730.9 853.7L1731.2 851.8L1732.2 850.3L1730.2 849.5L1728.9 848.1L1730.1 846.8L1731.9 847.4L1731.7 849.5L1729.8 848.9L1728 850L1726.3 851.3L1727.2 853.2L1729 853.1L1730.2 854.7L1731.7 855.9L1732.3 857.7L1732.9 859.5L1732.2 861.3L1733.8 862.1L1735.5 862.6L1737.2 862.2L1738.7 861.4L1740.2 860.5L1741.8 860.7L1743 861.8L1742 863.6L1741.5 865.4L1740.6 867.1L1740.3 868.8L1740.5 870.4L1740.5 872.1L1740.4 873.7L1739.5 875.2L1737.6 875.9L1736.2 877.1L1737.2 878.2L1738.1 879.4" fill="none" stroke="#a61e2c" stroke-width="2.6" stroke-linejoin="round" stroke-linecap="round"/>
<path d="M1445.2 796.3L1786.2 846.9L1826.9 828.6M1786.2 846.9L1788.4 904.1M1488.1 779.4L1492.5 831.5L1829.1 884.3M1492.5 831.5L1450.7 848" fill="none" stroke="#a9ace8" stroke-width="1.4" opacity="0.9"/>
<path d="M1445.2 796.3L1488.1 779.4L1826.9 828.6L1829.1 884.3L1788.4 904.1L1450.7 848Z" fill="none" stroke="#3a3e9a" stroke-width="1"/>
<path d="M1422.5 865.5l1.8 4" stroke="#c02030" stroke-width="2"/>
<path d="M1547.5 865.2C1548 876 1550 881 1558 883.2L1630 902C1637 904 1640 908 1641 917C1643 908 1646 905 1652 905.3L1714 912C1721 912.5 1725 910 1726 905" fill="none" stroke="#e8303a" stroke-width="2.6"/>
<text transform="translate(1474.5 917) rotate(9)" font-size="28.5" font-weight="bold" fill="#e8303a" textLength="292" lengthAdjust="spacingAndGlyphs">high current density</text>
<rect x="1423" y="1033" width="387" height="82" fill="#2a2d8a"/>
<path d="M1525.1 1034.7L1528.6 1051.5L1533.9 1064.1L1531.4 1072.5L1535.6 1083L1533.5 1091.4L1538.5 1101.9L1544.4 1113.4M1533.5 1091.4L1528.6 1099.8L1525.9 1113.4M1632.6 1034.7L1628.4 1047.3L1633 1062L1634.3 1074.6L1636.8 1089.3L1637.8 1099.8L1641 1113.4M1634 1035L1636 1050L1632 1060M1733.4 1034.7L1739.7 1047.3L1734.5 1062L1733.4 1074.6L1729.2 1087.2L1734.5 1093.5L1729.2 1104L1728.1 1113.4M1734.5 1093.5L1738.6 1104L1737.6 1113.4" fill="none" stroke="#a8141f" stroke-width="3.6" stroke-linejoin="round"/>
<path d="M1529.7 1122.9C1531 1130 1533 1133.4 1542 1133.8L1624 1134.5C1631 1135 1634 1139 1634.7 1148C1635.5 1139 1638 1135 1645 1134.5L1727 1134C1735 1133.4 1738.5 1130 1739.7 1122.9" fill="none" stroke="#e8303a" stroke-width="2.6"/>
<text x="1474" y="1174.3" font-size="28.5" font-weight="bold" fill="#e8303a" textLength="292" lengthAdjust="spacingAndGlyphs">high current density</text>
<defs><linearGradient id="cb" x1="0" y1="0" x2="0" y2="1"><stop offset="0" stop-color="#b82228"/><stop offset="0.07" stop-color="#e0202a"/><stop offset="0.14" stop-color="#e83226"/><stop offset="0.21" stop-color="#ee6a24"/><stop offset="0.28" stop-color="#f3a81e"/><stop offset="0.35" stop-color="#f6e41a"/><stop offset="0.42" stop-color="#a6d034"/><stop offset="0.48" stop-color="#5cb84a"/><stop offset="0.57" stop-color="#4cb8a4"/><stop offset="0.64" stop-color="#34bce6"/><stop offset="0.71" stop-color="#3a8ed6"/><stop offset="0.78" stop-color="#3a68c0"/><stop offset="0.86" stop-color="#3558b2"/><stop offset="1" stop-color="#2a3a98"/></linearGradient></defs>
<rect x="1868" y="830.3" width="42.6" height="276.7" fill="url(#cb)" stroke="#333" stroke-width="1"/>
<path d="M1868.5 868.8h8.5M1910.3 868.8h-8.5M1868.5 908.2h8.5M1910.3 908.2h-8.5M1868.5 947.9h8.5M1910.3 947.9h-8.5M1868.5 986.9h8.5M1910.3 986.9h-8.5M1868.5 1026.9h8.5M1910.3 1026.9h-8.5M1868.5 1066.6h8.5M1910.3 1066.6h-8.5" stroke="#000" stroke-width="3"/>
<text x="1853.5" y="796" font-size="32.5" font-weight="bold" fill="#000">A/m</text>
<text x="1917" y="786" font-size="22" font-weight="bold" fill="#000">2</text>
<text x="1916.5" y="839.5" font-size="32.5" font-weight="bold" fill="#000">10</text>
<text x="1953.5" y="829.8" font-size="23.5" font-weight="bold" fill="#000">12</text>
<text x="1920.5" y="1116.3" font-size="32.5" font-weight="bold" fill="#000">10</text>
<text x="1955" y="1106" font-size="23.5" font-weight="bold" fill="#000">7</text>
</svg>
</body></html>
